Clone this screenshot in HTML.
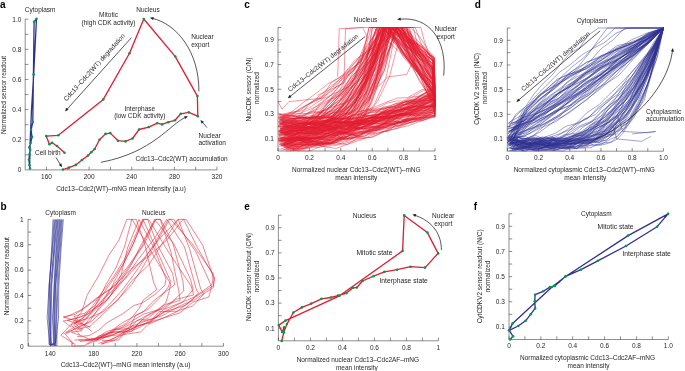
<!DOCTYPE html>
<html><head><meta charset="utf-8"><style>
html,body{margin:0;padding:0;background:#fff;}
svg{display:block;will-change:transform;}
text{font-family:"Liberation Sans", sans-serif;font-size:6.5px;fill:#231f20;}
</style></head><body>
<svg width="685" height="371" viewBox="0 0 685 371">
<rect width="685" height="371" fill="#fff"/>
<line x1="25.19" y1="169.9" x2="217" y2="169.9" stroke="#231f20" stroke-width="0.5"/>
<line x1="25.19" y1="169.9" x2="25.19" y2="19.2" stroke="#231f20" stroke-width="0.5"/>
<line x1="46.5" y1="169.9" x2="46.5" y2="166.7" stroke="#231f20" stroke-width="0.5"/>
<line x1="67.81" y1="169.9" x2="67.81" y2="166.7" stroke="#231f20" stroke-width="0.5"/>
<line x1="89.12" y1="169.9" x2="89.12" y2="166.7" stroke="#231f20" stroke-width="0.5"/>
<line x1="110.44" y1="169.9" x2="110.44" y2="166.7" stroke="#231f20" stroke-width="0.5"/>
<line x1="131.75" y1="169.9" x2="131.75" y2="166.7" stroke="#231f20" stroke-width="0.5"/>
<line x1="153.06" y1="169.9" x2="153.06" y2="166.7" stroke="#231f20" stroke-width="0.5"/>
<line x1="174.37" y1="169.9" x2="174.37" y2="166.7" stroke="#231f20" stroke-width="0.5"/>
<line x1="195.68" y1="169.9" x2="195.68" y2="166.7" stroke="#231f20" stroke-width="0.5"/>
<line x1="217" y1="169.9" x2="217" y2="166.7" stroke="#231f20" stroke-width="0.5"/>
<line x1="25.19" y1="154.83" x2="28.39" y2="154.83" stroke="#231f20" stroke-width="0.5"/>
<line x1="25.19" y1="139.76" x2="28.39" y2="139.76" stroke="#231f20" stroke-width="0.5"/>
<line x1="25.19" y1="124.69" x2="28.39" y2="124.69" stroke="#231f20" stroke-width="0.5"/>
<line x1="25.19" y1="109.62" x2="28.39" y2="109.62" stroke="#231f20" stroke-width="0.5"/>
<line x1="25.19" y1="94.55" x2="28.39" y2="94.55" stroke="#231f20" stroke-width="0.5"/>
<line x1="25.19" y1="79.48" x2="28.39" y2="79.48" stroke="#231f20" stroke-width="0.5"/>
<line x1="25.19" y1="64.41" x2="28.39" y2="64.41" stroke="#231f20" stroke-width="0.5"/>
<line x1="25.19" y1="49.34" x2="28.39" y2="49.34" stroke="#231f20" stroke-width="0.5"/>
<line x1="25.19" y1="34.27" x2="28.39" y2="34.27" stroke="#231f20" stroke-width="0.5"/>
<line x1="25.19" y1="19.2" x2="28.39" y2="19.2" stroke="#231f20" stroke-width="0.5"/>
<text x="46.5" y="179" text-anchor="middle">160</text>
<text x="89.12" y="179" text-anchor="middle">200</text>
<text x="131.75" y="179" text-anchor="middle">240</text>
<text x="174.37" y="179" text-anchor="middle">280</text>
<text x="217" y="179" text-anchor="middle">320</text>
<text x="21.4" y="172.2" text-anchor="end">0</text>
<text x="21.4" y="142.06" text-anchor="end">0.2</text>
<text x="21.4" y="111.92" text-anchor="end">0.4</text>
<text x="21.4" y="81.78" text-anchor="end">0.6</text>
<text x="21.4" y="51.64" text-anchor="end">0.8</text>
<text x="21.4" y="21.5" text-anchor="end">1.0</text>
<text x="0" y="7.8" style="font-size:10px;font-weight:bold;fill:#000;">a</text>
<text x="121" y="190.8" text-anchor="middle">Cdc13–Cdc2(WT)–mNG mean intensity (a.u)</text>
<text x="5.6" y="95" text-anchor="middle" transform="rotate(-90 5.6 95)">Normalized sensor readout</text>
<polyline points="30,168.5 29.5,165.2 28.9,159.7 29.5,154.2 30.2,149.7 29.3,147.5 30.6,143.1 32,137.1 31.1,129.8 32.8,122.1 34.1,21.9 36.5,18.7 33.7,74.3 31.5,110 30.2,140 29.8,160 29.6,169" fill="none" stroke="#2e3192" stroke-width="1.3" stroke-linejoin="round" />
<circle cx="30" cy="168.5" r="1.3" fill="#00994a"/>
<circle cx="29.5" cy="165.2" r="1.3" fill="#00994a"/>
<circle cx="28.9" cy="159.7" r="1.3" fill="#00994a"/>
<circle cx="29.5" cy="154.2" r="1.3" fill="#00994a"/>
<circle cx="30.2" cy="149.7" r="1.3" fill="#00994a"/>
<circle cx="29.3" cy="147.5" r="1.3" fill="#00994a"/>
<circle cx="30.6" cy="143.1" r="1.3" fill="#00994a"/>
<circle cx="32" cy="137.1" r="1.3" fill="#00994a"/>
<circle cx="31.1" cy="129.8" r="1.3" fill="#00994a"/>
<circle cx="32.8" cy="122.1" r="1.3" fill="#00994a"/>
<circle cx="34.1" cy="21.9" r="1.3" fill="#00994a"/>
<circle cx="36.5" cy="18.7" r="1.3" fill="#00994a"/>
<circle cx="33.7" cy="74.3" r="1.3" fill="#00994a"/>
<polyline points="62.9,169.5 69.1,167.6 75.8,164.9 82,160 88,155.5 91.2,152.2 94.7,149 99.5,139.8 105.5,133.9 110.3,133.1 118,140.7 125.5,141.4 132.5,138.5 139.1,129.5 148.8,127.1 157.3,123.2 162.1,124.4 168.2,122.2 175,120.3 180.8,113.8 188.8,112.3 197.8,116.2 197.4,96.1 175.3,56.6 143.8,19 129.5,53.3 103.3,99.4 58.3,135.3 46.2,136.1 49.4,144.2 52.1,142.8 57,146 64.5,152.8" fill="none" stroke="#e31b30" stroke-width="1.3" stroke-linejoin="round" />
<circle cx="62.9" cy="169.5" r="1.3" fill="#00994a"/>
<circle cx="69.1" cy="167.6" r="1.3" fill="#00994a"/>
<circle cx="75.8" cy="164.9" r="1.3" fill="#00994a"/>
<circle cx="82" cy="160" r="1.3" fill="#00994a"/>
<circle cx="88" cy="155.5" r="1.3" fill="#00994a"/>
<circle cx="91.2" cy="152.2" r="1.3" fill="#00994a"/>
<circle cx="94.7" cy="149" r="1.3" fill="#00994a"/>
<circle cx="99.5" cy="139.8" r="1.3" fill="#00994a"/>
<circle cx="105.5" cy="133.9" r="1.3" fill="#00994a"/>
<circle cx="110.3" cy="133.1" r="1.3" fill="#00994a"/>
<circle cx="118" cy="140.7" r="1.3" fill="#00994a"/>
<circle cx="125.5" cy="141.4" r="1.3" fill="#00994a"/>
<circle cx="132.5" cy="138.5" r="1.3" fill="#00994a"/>
<circle cx="139.1" cy="129.5" r="1.3" fill="#00994a"/>
<circle cx="148.8" cy="127.1" r="1.3" fill="#00994a"/>
<circle cx="157.3" cy="123.2" r="1.3" fill="#00994a"/>
<circle cx="162.1" cy="124.4" r="1.3" fill="#00994a"/>
<circle cx="168.2" cy="122.2" r="1.3" fill="#00994a"/>
<circle cx="175" cy="120.3" r="1.3" fill="#00994a"/>
<circle cx="180.8" cy="113.8" r="1.3" fill="#00994a"/>
<circle cx="188.8" cy="112.3" r="1.3" fill="#00994a"/>
<circle cx="197.8" cy="116.2" r="1.3" fill="#00994a"/>
<circle cx="197.4" cy="96.1" r="1.3" fill="#00994a"/>
<circle cx="175.3" cy="56.6" r="1.3" fill="#00994a"/>
<circle cx="143.8" cy="19" r="1.3" fill="#00994a"/>
<circle cx="129.5" cy="53.3" r="1.3" fill="#00994a"/>
<circle cx="103.3" cy="99.4" r="1.3" fill="#00994a"/>
<circle cx="58.3" cy="135.3" r="1.3" fill="#00994a"/>
<circle cx="46.2" cy="136.1" r="1.3" fill="#00994a"/>
<circle cx="49.4" cy="144.2" r="1.3" fill="#00994a"/>
<circle cx="52.1" cy="142.8" r="1.3" fill="#00994a"/>
<circle cx="57" cy="146" r="1.3" fill="#00994a"/>
<circle cx="64.5" cy="152.8" r="1.3" fill="#00994a"/>
<text x="24.8" y="11.6">Cytoplasm</text>
<text x="148" y="12" text-anchor="middle">Nucleus</text>
<text x="108.5" y="17.1" text-anchor="middle">Mitotic</text>
<text x="108.5" y="25.2" text-anchor="middle">(high CDK activity)</text>
<text x="191.2" y="38.7">Nuclear</text>
<text x="191.2" y="46.7">export</text>
<text x="139.8" y="110.9" text-anchor="middle">Interphase</text>
<text x="139.8" y="118.4" text-anchor="middle">(low CDK activity)</text>
<text x="198.5" y="137.6">Nuclear</text>
<text x="198.5" y="145.1">activation</text>
<text x="135.5" y="160.9">Cdc13–Cdc2(WT) accumulation</text>
<text x="35" y="155.4">Cell birth</text>
<line x1="131.4" y1="37.7" x2="66.61" y2="109.72" stroke="#231f20" stroke-width="0.75"/>
<path d="M65,111.5 L66.27,107.81 L68.53,109.85 Z" fill="#231f20"/>
<text x="95.9" y="68.8" text-anchor="middle" transform="rotate(311.98 95.9 68.8)">Cdc13–Cdc2(WT) degradation</text>
<path d="M198.9,91.4 C199.2,51.8 176.7,23.8 152.05,18.28" fill="none" stroke="#231f20" stroke-width="0.75"/>
<path d="M149.9,17.8 L153.74,17.1 L153.07,20.07 Z" fill="#231f20"/>
<path d="M100.9,162.3 C153.3,152.5 170.1,123.8 185.97,117.15" fill="none" stroke="#231f20" stroke-width="0.75"/>
<path d="M188,116.3 L185.27,119.09 L184.1,116.29 Z" fill="#231f20"/>
<line x1="207" y1="127.5" x2="201.99" y2="121.8" stroke="#231f20" stroke-width="0.75"/>
<path d="M200.4,120 L203.91,121.69 L201.63,123.7 Z" fill="#231f20"/>
<line x1="56" y1="157.5" x2="60.74" y2="165.16" stroke="#231f20" stroke-width="0.75"/>
<path d="M62,167.2 L58.82,164.94 L61.4,163.35 Z" fill="#231f20"/>
<line x1="28" y1="346.2" x2="223.5" y2="346.2" stroke="#231f20" stroke-width="0.5"/>
<line x1="28" y1="346.2" x2="28" y2="219.4" stroke="#231f20" stroke-width="0.5"/>
<line x1="28.65" y1="346.2" x2="28.65" y2="343" stroke="#231f20" stroke-width="0.5"/>
<line x1="50.3" y1="346.2" x2="50.3" y2="343" stroke="#231f20" stroke-width="0.5"/>
<line x1="71.95" y1="346.2" x2="71.95" y2="343" stroke="#231f20" stroke-width="0.5"/>
<line x1="93.6" y1="346.2" x2="93.6" y2="343" stroke="#231f20" stroke-width="0.5"/>
<line x1="115.25" y1="346.2" x2="115.25" y2="343" stroke="#231f20" stroke-width="0.5"/>
<line x1="136.9" y1="346.2" x2="136.9" y2="343" stroke="#231f20" stroke-width="0.5"/>
<line x1="158.55" y1="346.2" x2="158.55" y2="343" stroke="#231f20" stroke-width="0.5"/>
<line x1="180.2" y1="346.2" x2="180.2" y2="343" stroke="#231f20" stroke-width="0.5"/>
<line x1="201.85" y1="346.2" x2="201.85" y2="343" stroke="#231f20" stroke-width="0.5"/>
<line x1="223.5" y1="346.2" x2="223.5" y2="343" stroke="#231f20" stroke-width="0.5"/>
<line x1="28" y1="333.52" x2="31.2" y2="333.52" stroke="#231f20" stroke-width="0.5"/>
<line x1="28" y1="320.84" x2="31.2" y2="320.84" stroke="#231f20" stroke-width="0.5"/>
<line x1="28" y1="308.16" x2="31.2" y2="308.16" stroke="#231f20" stroke-width="0.5"/>
<line x1="28" y1="295.48" x2="31.2" y2="295.48" stroke="#231f20" stroke-width="0.5"/>
<line x1="28" y1="282.8" x2="31.2" y2="282.8" stroke="#231f20" stroke-width="0.5"/>
<line x1="28" y1="270.12" x2="31.2" y2="270.12" stroke="#231f20" stroke-width="0.5"/>
<line x1="28" y1="257.44" x2="31.2" y2="257.44" stroke="#231f20" stroke-width="0.5"/>
<line x1="28" y1="244.76" x2="31.2" y2="244.76" stroke="#231f20" stroke-width="0.5"/>
<line x1="28" y1="232.08" x2="31.2" y2="232.08" stroke="#231f20" stroke-width="0.5"/>
<line x1="28" y1="219.4" x2="31.2" y2="219.4" stroke="#231f20" stroke-width="0.5"/>
<text x="50.3" y="356" text-anchor="middle">140</text>
<text x="93.6" y="356" text-anchor="middle">180</text>
<text x="136.9" y="356" text-anchor="middle">220</text>
<text x="180.2" y="356" text-anchor="middle">260</text>
<text x="223.5" y="356" text-anchor="middle">300</text>
<text x="23.6" y="348.5" text-anchor="end">0</text>
<text x="23.6" y="323.14" text-anchor="end">0.2</text>
<text x="23.6" y="297.78" text-anchor="end">0.4</text>
<text x="23.6" y="272.42" text-anchor="end">0.6</text>
<text x="23.6" y="247.06" text-anchor="end">0.8</text>
<text x="23.6" y="221.7" text-anchor="end">1</text>
<text x="0.6" y="209.9" style="font-size:10px;font-weight:bold;fill:#000;">b</text>
<text x="125.5" y="367.4" text-anchor="middle">Cdc13–Cdc2(WT)–mNG mean intensity (a.u)</text>
<text x="8.6" y="276.2" text-anchor="middle" transform="rotate(-90 8.6 276.2)">Normalized sensor readout</text>
<text x="60.7" y="214.6" text-anchor="middle">Cytoplasm</text>
<text x="153.7" y="214.6" text-anchor="middle">Nucleus</text>
<polyline points="60.81,219.4 58.75,250 57.04,285 56.21,318 55.51,342.82 50.74,345.53 51.18,318 51.77,285 54.73,250 57.11,219.4" fill="none" stroke="#2e3192" stroke-width="0.6" stroke-linejoin="round" />
<polyline points="53.07,219.4 51.47,250 49.48,285 48.89,318 49.02,344.45 51.41,345.1 48.91,318 49.16,285 52.11,250 54.03,219.4" fill="none" stroke="#2e3192" stroke-width="0.6" stroke-linejoin="round" />
<polyline points="60,219.4 57.96,250 55.64,285 55.81,318 55.13,344.85 50.86,342.77 50.42,318 50.44,285 54.09,250 56.48,219.4" fill="none" stroke="#2e3192" stroke-width="0.6" stroke-linejoin="round" />
<polyline points="57.77,219.4 55.91,250 54.05,285 52.77,318 53.51,345.04 49.83,344.24 47.11,318 49.17,285 52.58,250 54.94,219.4" fill="none" stroke="#2e3192" stroke-width="0.6" stroke-linejoin="round" />
<polyline points="55.48,219.4 53.76,250 51.4,285 50,318 49.87,344.73 56.95,345.46 56.85,318 58,285 60.21,250 62.31,219.4" fill="none" stroke="#2e3192" stroke-width="0.6" stroke-linejoin="round" />
<polyline points="61.62,219.4 59.29,250 55.56,285 54.37,318 54.34,345.3 55.53,345.35 58.48,318 58.85,285 60.99,250 63.34,219.4" fill="none" stroke="#2e3192" stroke-width="0.6" stroke-linejoin="round" />
<polyline points="59.4,219.4 57.31,250 54.79,285 54.17,318 55.27,343.17 54.13,343.61 52.87,318 54.48,285 56.46,250 58.44,219.4" fill="none" stroke="#2e3192" stroke-width="0.6" stroke-linejoin="round" />
<polyline points="98.63,343.41 107.71,340.61 118.89,339.94 125.12,331.8 133.39,328.33 145.55,316.77 154.87,311.85 165.81,302.93 168.92,292.31 170.75,284.03 151.22,251.77 132.08,219.4 126.82,219.4 119.09,239.75 108.66,255.59 98.92,275.27 87.12,295.36 81.49,312.12 72.3,323.15 60.87,335.27 75.24,344.58" fill="none" stroke="#e31b30" stroke-width="0.55" stroke-linejoin="round" />
<polyline points="95.41,341.14 100.06,339.74 111.13,333.91 115.5,328.72 125.91,323.6 131.87,317.62 139.11,308.41 143.36,299.91 156.8,289.6 153.5,282 145.1,245.18 136.32,219.4 131.77,219.4 124.82,245.8 116.14,267.44 106.5,283.44 99.62,297.41 93.42,309.46 81.44,319.1 75.53,321.1 90.48,327.22" fill="none" stroke="#e31b30" stroke-width="0.55" stroke-linejoin="round" />
<polyline points="77.28,336.68 89.17,335.58 98.66,330.21 107.16,322.62 123.13,313.48 133.72,305.58 142.31,302.97 154.85,294.47 164.73,285.54 166.05,279.14 154.13,248.16 138.99,219.4 127.47,248.05 121.24,274.69 110.85,295.15 99.43,308.88 88.5,319.94 80.7,331 71.21,332.03 88.3,338.54" fill="none" stroke="#e31b30" stroke-width="0.55" stroke-linejoin="round" />
<polyline points="72.41,346 84.31,345.79 98.25,336.28 108.38,332.93 121.49,323.24 134.66,316.07 148.22,309.17 160.49,297.07 167.95,287.56 170.51,281.13 155.75,247.65 142.91,219.4 133.33,243.9 124.45,262.13 113.14,279.41 102.15,295.19 94.94,305.64 84.63,313.12 73.82,316.61 91.9,331.6" fill="none" stroke="#e31b30" stroke-width="0.55" stroke-linejoin="round" />
<polyline points="101.85,340.41 110.22,340.45 121.09,334.12 129.82,326.62 135.58,315.42 143.1,311.77 154.32,300.09 165.2,291.99 174.67,284.67 172.64,273.41 158.21,246.53 147.6,219.4 143.87,219.4 132.75,244.97 121.7,267.37 109.71,290.5 100.75,305 89.32,321.9 76.69,327.65 65.37,334.38 73.61,344.3" fill="none" stroke="#e31b30" stroke-width="0.55" stroke-linejoin="round" />
<polyline points="87.37,344.35 99.49,338.45 115.31,330.18 123.95,327.3 136.14,321.33 153.72,311.76 164.63,308.51 175.88,299.37 193.76,294.97 191.12,286.02 168.8,252.48 148.56,219.4 142.68,219.4 133.34,240.01 123.97,259.99 113.16,277.32 101.95,292.59 93.13,305.27 83.18,317.77 73.7,324.64 81.36,330.77" fill="none" stroke="#e31b30" stroke-width="0.55" stroke-linejoin="round" />
<polyline points="92.9,342.51 102.02,336.27 114.32,331.56 131.6,331.65 140.32,321.58 153.38,318.48 170.04,308.62 182.69,302.06 193.11,289.5 190.57,279.45 174.2,244.57 154.63,219.4 141.6,246.86 128.53,265.63 114.12,284.49 100.7,302.45 89.58,313.67 76.59,318.31 63.24,321.03 71.25,327.16" fill="none" stroke="#e31b30" stroke-width="0.55" stroke-linejoin="round" />
<polyline points="96.86,338.57 106.75,334.5 114.17,329.69 129.7,328.51 137.29,320.3 147.11,318.93 155.68,311.96 164.83,304.49 180.07,300.53 178.59,289.64 170.93,251.98 160.28,219.4 155.38,219.4 141.77,243.37 131.32,264.84 119.06,283.93 106.86,300.56 93.43,309.09 81.17,316.61 67.46,320.54 83.05,325.15" fill="none" stroke="#e31b30" stroke-width="0.55" stroke-linejoin="round" />
<polyline points="79.83,341.62 94.45,339.36 106.39,331.56 121.14,327.61 135.03,319.22 143.34,314.28 161.1,308.74 172.03,301.74 183.8,290.92 182.96,281.26 172.84,243.12 160.61,219.4 155.7,219.4 144.63,243.51 130.62,264.29 116.49,284.88 100.89,295.65 88.18,305.39 75.01,314.49 63.23,316.89 77.24,321.36" fill="none" stroke="#e31b30" stroke-width="0.55" stroke-linejoin="round" />
<polyline points="101.89,344.29 109.61,339.8 122.07,334.85 138.98,327.58 152.18,319.32 158.96,311.66 177.05,311.2 189.08,302.58 198.58,292.67 196.53,290.24 184.48,246.84 166.74,219.4 154.44,238.38 137.72,260.06 125.52,277.93 110.1,296.01 96.74,307.94 85.42,319 71.02,324.68 80.12,335.13" fill="none" stroke="#e31b30" stroke-width="0.55" stroke-linejoin="round" />
<polyline points="85.26,339.49 98.79,339.36 117.2,333.04 132.89,326.77 150.23,322.61 163.25,309.64 183.87,301.43 194.47,296.96 212.27,284.24 213.21,273.78 191.84,243.45 170.8,219.4 168.17,219.4 153.76,244.7 138.12,268.56 122.57,289.57 109.74,304.04 91.65,321.27 78.86,327.49 63.35,333.75" fill="none" stroke="#e31b30" stroke-width="0.55" stroke-linejoin="round" />
<polyline points="78.31,340.3 93.11,340.52 107.83,332.61 124.59,332.17 144.61,323.62 162.27,318.34 179.73,312.92 192.95,302.04 208.97,296.85 211.58,286.44 195.87,251.77 173.74,219.4 169.64,219.4 154.77,245.2 143.52,265.88 131.91,284.37 116.53,300.87 102.74,314.52 89.94,326.2 77.16,329.45" fill="none" stroke="#e31b30" stroke-width="0.55" stroke-linejoin="round" />
<polyline points="100.77,344.05 114.13,340.62 122.94,334.59 140.62,332.05 148.14,324.4 164.63,317.44 180.47,309.87 192.52,306.2 203.95,293.89 200.76,289.17 189.47,248.39 178.2,219.4 160.64,237.29 146.81,254.77 128.94,274.76 114.23,288.85 97.67,304.66 84.14,321.31 66.09,332.1" fill="none" stroke="#e31b30" stroke-width="0.55" stroke-linejoin="round" />
<polyline points="87.8,340 104.33,336.65 118.71,334.74 135.16,326.94 149.28,322.22 163.48,312.09 184.96,305.47 195.61,296.84 213.27,285.84 214.71,277.82 197.36,247.63 183.69,219.4 178.02,219.4 161.29,245.05 148.71,264.94 131.5,281.08 117.31,300.52 102.69,312.02 89.41,317.8 74.16,322.53 82.18,329.54" fill="none" stroke="#e31b30" stroke-width="0.55" stroke-linejoin="round" />
<polyline points="74.36,340.14 95.65,338.35 108.17,336.91 130.18,326.62 143.83,321.72 161.97,315.72 182.35,304.81 194.76,299.63 213.58,287.32 213.96,279.11 202.69,245.19 186.08,219.4 183.06,219.4 167.62,239.25 149.57,255.49 130.92,269.4 113.37,286.64 95.68,298.67 82.3,309.39 63.75,318.05" fill="none" stroke="#e31b30" stroke-width="0.55" stroke-linejoin="round" />
<line x1="278" y1="151" x2="435" y2="151" stroke="#231f20" stroke-width="0.5"/>
<line x1="278" y1="151" x2="278" y2="27.5" stroke="#231f20" stroke-width="0.5"/>
<line x1="278" y1="151" x2="278" y2="147.8" stroke="#231f20" stroke-width="0.5"/>
<line x1="293.7" y1="151" x2="293.7" y2="147.8" stroke="#231f20" stroke-width="0.5"/>
<line x1="309.4" y1="151" x2="309.4" y2="147.8" stroke="#231f20" stroke-width="0.5"/>
<line x1="325.1" y1="151" x2="325.1" y2="147.8" stroke="#231f20" stroke-width="0.5"/>
<line x1="340.8" y1="151" x2="340.8" y2="147.8" stroke="#231f20" stroke-width="0.5"/>
<line x1="356.5" y1="151" x2="356.5" y2="147.8" stroke="#231f20" stroke-width="0.5"/>
<line x1="372.2" y1="151" x2="372.2" y2="147.8" stroke="#231f20" stroke-width="0.5"/>
<line x1="387.9" y1="151" x2="387.9" y2="147.8" stroke="#231f20" stroke-width="0.5"/>
<line x1="403.6" y1="151" x2="403.6" y2="147.8" stroke="#231f20" stroke-width="0.5"/>
<line x1="419.3" y1="151" x2="419.3" y2="147.8" stroke="#231f20" stroke-width="0.5"/>
<line x1="435" y1="151" x2="435" y2="147.8" stroke="#231f20" stroke-width="0.5"/>
<line x1="278" y1="138.65" x2="281.2" y2="138.65" stroke="#231f20" stroke-width="0.5"/>
<line x1="278" y1="126.3" x2="281.2" y2="126.3" stroke="#231f20" stroke-width="0.5"/>
<line x1="278" y1="113.95" x2="281.2" y2="113.95" stroke="#231f20" stroke-width="0.5"/>
<line x1="278" y1="101.6" x2="281.2" y2="101.6" stroke="#231f20" stroke-width="0.5"/>
<line x1="278" y1="89.25" x2="281.2" y2="89.25" stroke="#231f20" stroke-width="0.5"/>
<line x1="278" y1="76.9" x2="281.2" y2="76.9" stroke="#231f20" stroke-width="0.5"/>
<line x1="278" y1="64.55" x2="281.2" y2="64.55" stroke="#231f20" stroke-width="0.5"/>
<line x1="278" y1="52.2" x2="281.2" y2="52.2" stroke="#231f20" stroke-width="0.5"/>
<line x1="278" y1="39.85" x2="281.2" y2="39.85" stroke="#231f20" stroke-width="0.5"/>
<line x1="278" y1="27.5" x2="281.2" y2="27.5" stroke="#231f20" stroke-width="0.5"/>
<text x="278" y="160.3" text-anchor="middle">0</text>
<text x="309.4" y="160.3" text-anchor="middle">0.2</text>
<text x="340.8" y="160.3" text-anchor="middle">0.4</text>
<text x="372.2" y="160.3" text-anchor="middle">0.6</text>
<text x="403.6" y="160.3" text-anchor="middle">0.8</text>
<text x="435" y="160.3" text-anchor="middle">1</text>
<text x="273.8" y="140.95" text-anchor="end">0.1</text>
<text x="273.8" y="116.25" text-anchor="end">0.3</text>
<text x="273.8" y="91.55" text-anchor="end">0.5</text>
<text x="273.8" y="66.85" text-anchor="end">0.7</text>
<text x="273.8" y="42.15" text-anchor="end">0.9</text>
<text x="244.2" y="8.2" style="font-size:10px;font-weight:bold;fill:#000;">c</text>
<text x="356.3" y="172.1" text-anchor="middle">Normalized nuclear Cdc13–Cdc2(WT)–mNG</text>
<text x="356.3" y="180.3" text-anchor="middle">mean intensity</text>
<text x="251.2" y="89.6" text-anchor="middle" transform="rotate(-90 251.2 89.6)">NucCDK sensor (C/N)</text>
<text x="258.6" y="88" text-anchor="middle" transform="rotate(-90 258.6 88)">normalized</text>
<polyline points="286.91,132.07 297.75,130.66 310.5,127.2 320.97,127.89 334.44,120.73 348.74,123.14 361.32,119.99 373.11,116.32 383.26,106.97 396.51,106.88 411.88,97.29 421.74,91.22 435,88.56 434.52,76.01 432.83,69.99 424.71,58.24 413.02,45.18 395.06,27.5 378.22,27.5 367.37,78.56 357.81,106.94 347.11,119.21 337.99,125.9 329.25,130.52 318.03,130.83 309.05,131.13 299.78,133.07 289.25,133.23 278.67,131.11" fill="none" stroke="#e31b30" stroke-width="0.45" stroke-linejoin="round" />
<polyline points="280.43,130.14 292.7,124.35 306.43,127.45 317.24,125.13 331.85,126.86 344.77,120.88 358.21,124.87 371.56,123.18 382.3,118.23 397.5,118.71 410.55,115.86 421.27,115.98 435,113.22 434.65,89.02 431.87,67.63 415.4,53.18 398.61,43.38 381.05,27.5 380.14,27.5 369.57,41.85 361.14,54.65 350.22,68.58 341.56,83.32 330.59,95.98 319.77,104.49 311.92,116.49 301.61,127.75 290.82,139.87 281.08,145.77" fill="none" stroke="#e31b30" stroke-width="0.45" stroke-linejoin="round" />
<polyline points="285.09,144.44 297.29,145.06 309.68,138.25 324.36,139.19 335.11,139.1 346.05,136.95 361.15,129.73 372.05,126.7 386.09,123.26 398.16,118.27 409.51,113.64 421.69,109.68 435,103.66 434.31,77.12 432.96,57.17 423,48.04 411.63,40.6 397.54,27.5 397.32,27.5 385.81,57.87 374.86,81.13 362.69,98.98 352.25,112.32 339.85,120.02 329.74,125.26 318.59,128.87 306.02,129.01 293.72,131.32 283.14,131.5" fill="none" stroke="#e31b30" stroke-width="0.45" stroke-linejoin="round" />
<polyline points="292.04,127.12 303.37,127.09 316.65,126.09 328.38,128.84 338.21,123.96 351.99,122.95 364.07,117.03 373.58,114.54 386.21,113.31 397.8,106.87 409.92,102.6 421.31,95.09 435,88.71 433.61,87.78 432.16,82.96 417.03,67.42 402.73,50.13 389.91,27.5 382.28,27.5 373.15,44.93 361.19,58.3 351.38,70.5 342.03,82.79 333.63,93.27 322.31,101.42 312.91,109.15 301.69,117.17 292.79,120.35 282.67,122.61" fill="none" stroke="#e31b30" stroke-width="0.45" stroke-linejoin="round" />
<polyline points="294.37,131.76 305.18,133.42 316.37,132.5 330.94,129.83 342.66,123.95 353.04,126.19 366.25,122.19 375.88,120.99 389.79,117.31 398.92,114.87 410.06,111.28 423.03,110.92 435,106.81 434.97,84.37 434.14,62.4 424.84,53.19 413.44,42.61 396.14,27.5 381.41,27.5 372.44,64.39 361.3,88.78 351.2,104.91 341.26,115.19 331.11,123.82 320.35,126.48 309.56,127.92 299.79,127.63 290.31,128.5 279.5,127.89" fill="none" stroke="#e31b30" stroke-width="0.45" stroke-linejoin="round" />
<polyline points="279.07,135.45 291.38,132.04 304.68,132.1 318.81,131.25 329.94,126.49 342.28,128.8 357.75,128.85 370.86,122.96 382.42,124.23 396.81,118.36 407.49,119.8 422.1,118.11 435,116.53 433.62,102.99 434.79,94.07 417.51,72.66 402.47,53.32 386.63,27.5 371.19,27.5 362.62,58.73 354.19,76.06 342.68,92.66 333.98,102.48 326.7,110.01 315.51,113.59 308.36,117.43 298.46,118.88 288.2,117.91 279.93,117.55" fill="none" stroke="#e31b30" stroke-width="0.45" stroke-linejoin="round" />
<polyline points="279.09,149.34 292.7,145.78 306.94,143.67 316.59,138.28 329.92,135.39 344.22,129.98 357.38,128.39 369.25,125.18 382.19,120.03 396.15,120.44 408.06,114.87 422.92,112.21 435,105.95 434.8,103.22 434.71,102.98 419.66,81.63 407.34,55.83 396.05,27.5 384.86,27.5 374.12,70.67 363.08,94.7 352.84,109.07 344.79,118.77 332.66,119.67 324.24,123.45 313.55,121.4 302.76,123.82 291.48,122.87 281.84,122.22" fill="none" stroke="#e31b30" stroke-width="0.45" stroke-linejoin="round" />
<polyline points="280.66,139.51 293.81,140.98 306.87,139.01 319.04,141.9 330.51,139.01 343.38,131.52 357.88,129.07 368.91,127.16 385.1,121.63 396.21,117.62 407.81,114.12 420.87,106.37 435,98.71 434.64,95.83 434.13,89.32 417.74,72.08 403.29,52.31 388.86,27.5 383.45,27.5 374.08,63.16 363.68,84.9 352.59,98.84 342.84,109.37 331.71,116.46 321.29,118.54 309.57,117.85 298.79,120.61 288.49,120.57 279.12,119.37" fill="none" stroke="#e31b30" stroke-width="0.45" stroke-linejoin="round" />
<polyline points="292.41,138.06 304.25,140.24 317.43,141.23 325.92,133.63 339.17,136.22 351.63,127.01 363.45,128.6 373.79,127.55 388.76,121.55 400.83,121.36 410.16,118.06 422.68,114.58 435,108.03 434.28,99.05 434.88,83.42 426.47,66.6 416.51,50.35 400.8,27.5 397.42,27.5 384.54,42.82 372.76,58.12 362.97,70.28 350.97,81.99 337.03,94.37 326.37,102.26 314.25,109.98 303.29,116.01 290.41,119.15 279.05,123.01" fill="none" stroke="#e31b30" stroke-width="0.45" stroke-linejoin="round" />
<polyline points="287.27,141.36 298.65,140.23 310.91,137.96 325.02,137.58 335.33,132.13 347.53,132.66 360.68,127.87 372.23,123.33 385.29,116.18 398.46,109.69 411.08,104.5 423.03,99.94 435,92.14 432.75,89.21 432.8,89.67 423.61,71.6 414.49,54.19 406.19,27.5 390.89,27.5 378.95,77.43 369.12,107.08 356.47,125.32 346.6,133.45 334.22,141.94 323.88,143.79 314.26,141.39 301.35,142.72 290.57,143.56 279.8,143.25" fill="none" stroke="#e31b30" stroke-width="0.45" stroke-linejoin="round" />
<polyline points="280.13,133.08 290.09,135.44 306.13,132.65 317.36,130.41 331.66,124.15 343.82,120.66 357.1,123.03 370.97,116.88 381.14,108.74 394.11,106.94 408.85,99.98 421.55,99.47 435,92.12 433.68,82.44 432.64,70.63 419.77,58.94 406.94,42.37 393.94,27.5 387.31,27.5 377.58,70.09 365.84,100.36 356.31,120.95 343.7,130.32 333.24,137.66 324.64,138.06 313.77,141.5 302.87,141.29 292.11,138.95 281.19,140.56" fill="none" stroke="#e31b30" stroke-width="0.45" stroke-linejoin="round" />
<polyline points="280.57,130.55 294.63,128.67 308.56,128 322.33,123.65 334.83,122.83 346.6,122.07 359.8,121.29 371.75,116.98 384.2,117.48 395.25,116.5 409.02,110.64 423.26,107.18 435,106.03 434.35,103.2 434.77,103.56 421.71,78.49 408.15,55.96 389.59,27.5 376.96,27.5 367.95,55.63 357.51,79.06 347.41,100.26 336.85,111.72 327.75,122.09 316.52,132.12 307.1,136.85 299.04,138.25 288.46,138.13 278.31,140.13" fill="none" stroke="#e31b30" stroke-width="0.45" stroke-linejoin="round" />
<polyline points="280.74,129.54 291.92,130.18 307.07,131.22 317.31,126.75 333.1,122.24 345.61,122.88 357.36,119.39 372.06,118.09 382.6,112.99 398.08,112.76 407.44,110.02 422.34,103.3 435,100.57 433.6,84.8 432.83,71.21 421.59,58.17 408.04,43.33 389.7,27.5 388.55,27.5 377.5,50.21 367.72,71.92 356.08,89.45 347.03,105.16 334.57,117.81 324.12,127.92 313.51,134.64 302.8,136.27 293.79,137.61 282.61,139.23" fill="none" stroke="#e31b30" stroke-width="0.45" stroke-linejoin="round" />
<polyline points="285.83,131.83 298.53,127.48 311.78,122.77 325.16,124.12 336.19,118.05 348.39,118.02 361.53,113.18 374.16,109.22 387.52,102.93 396.47,100.98 411.22,100.92 421.25,96.34 435,92.84 432.84,82.95 434.09,71.31 427.78,56.74 421.62,44.65 415.2,27.5 402.07,27.5 389.61,76.29 378.03,100.4 365.73,117.65 354.31,123.25 341.27,126.65 329.74,127.48 317.86,123.78 306.8,126.49 293.3,127.8 281.62,125.99" fill="none" stroke="#e31b30" stroke-width="0.45" stroke-linejoin="round" />
<polyline points="278,126.91 291.08,128.7 302.8,128.2 319.14,123.48 330.52,125.92 343.15,118.93 356.37,118.21 371.2,115.84 383.26,118.01 394.02,110.89 408.55,108.09 423.16,105.73 435,106.51 433.22,102.37 434.53,104.04 423.1,78.74 410.78,55.67 393.62,27.5 385.67,27.5 374.7,61.85 364.06,86.56 353.79,104.66 341.78,118.03 330.77,124.82 322.08,130.15 309.55,130.56 300.37,135.55 289.03,131.69 278.02,133.77" fill="none" stroke="#e31b30" stroke-width="0.45" stroke-linejoin="round" />
<polyline points="285.91,148.17 298.49,148.31 310.03,140.54 323.23,144.2 333.5,137.64 347,136.57 359.89,131.93 374.24,130.95 385.24,127.3 397.66,120.42 408.61,118.38 423.27,117.76 435,110.35 433.81,84.9 432.51,61.08 419.63,53.29 407.63,41.5 397.4,27.5 387.97,27.5 375.8,59.07 365.91,83.9 356.14,101.38 344.18,116.89 334.23,125.51 323.4,131.19 310.37,138.12 299.17,137.36 289.86,140.25 278.3,140.13" fill="none" stroke="#e31b30" stroke-width="0.45" stroke-linejoin="round" />
<polyline points="283.03,126.2 295.04,128.46 308.68,127.48 323.61,125.81 333.57,121.16 347.9,123.51 360.81,119.56 371.72,117.93 383.75,118.68 398.7,115.53 411.35,115.26 421.06,113.89 435,108.42 434.98,97.24 432.41,79.28 423.64,66.02 413.36,47.77 401.49,27.5 385.07,27.5 375,61.59 364.1,84.18 354.32,104.25 341.48,117.74 330.92,123.89 321.22,132.01 311.68,132.36 298.99,133.37 290.31,134.11 278.82,134.79" fill="none" stroke="#e31b30" stroke-width="0.45" stroke-linejoin="round" />
<polyline points="280.87,150.11 292.77,149.06 308.35,148.48 317.95,145.77 330.75,142.83 345.63,138.06 356.78,137.62 370.8,129.06 383.47,124.28 398.05,120.86 408.46,111.26 422.3,100.44 435,94.36 434.01,91.02 432.38,91.89 418.39,73.76 403.91,53.96 388.24,27.5 386.21,27.5 374.82,55.06 364.96,78.33 352.84,92.98 342.58,105.03 332.52,115.35 321.59,116.49 311.76,122.38 300.12,121.91 288.37,120.69 278.16,121.71" fill="none" stroke="#e31b30" stroke-width="0.45" stroke-linejoin="round" />
<polyline points="284.38,146.38 296.89,146.76 306.6,145.27 319.75,145.6 333.72,141.24 344.69,137.03 360.49,131.22 371.42,134.15 385.25,131.07 397.07,128.21 411.45,121.88 422.07,120.53 435,115.67 433.99,95.55 433.38,71.13 424.97,57.38 413.81,42.88 396.96,27.5 389.77,27.5 379.91,53.88 367.58,75 358.95,95.7 347.06,109.19 336.75,119.4 325.38,130.57 314.67,136.11 305.29,141.54 293.09,143.06 283.36,144.05" fill="none" stroke="#e31b30" stroke-width="0.45" stroke-linejoin="round" />
<polyline points="284.56,144.66 298.62,144.68 310.55,141.45 322.62,136.59 334.3,133.99 348.19,129.41 360.87,123.75 372.74,117.4 384.88,111.45 399.02,111.16 409.33,102.6 421.1,101.28 435,96.2 434.7,82.21 432.62,70.53 425.77,55.43 416.38,45.64 403.62,27.5 403.6,27.5 392.1,44.62 380.64,63.85 367.48,78.57 355.99,92.68 344.36,105.55 331.31,116.29 319,126.96 309.03,133.02 295.29,137.97 284.54,141.78" fill="none" stroke="#e31b30" stroke-width="0.45" stroke-linejoin="round" />
<polyline points="285.54,149.63 296.64,150.18 310.58,144.54 323.41,142.94 334.75,141.8 348.38,138.52 360.36,132.77 372.29,129.93 383.35,129.31 398.78,126.32 408.33,123.26 423.5,118.47 435,111.4 433.11,85.08 433.36,58.41 420.07,47.81 408.68,39.25 399.54,27.5 384.56,27.5 374.33,59.73 364.41,83.54 351.8,99.33 343.72,107.69 330.89,116.21 320.45,118.42 309.91,119.52 299.18,120.6 289.41,119.75 279.39,119.44" fill="none" stroke="#e31b30" stroke-width="0.45" stroke-linejoin="round" />
<polyline points="281.52,131.83 292.69,130.86 308.26,128.07 321.38,126.66 333.79,123.63 347.15,122.2 358.03,120.96 371.72,117.07 384.71,117.59 395.51,115.72 408.51,110.45 423.24,110.87 435,105.65 434.14,105 433.1,98.34 423.37,78.13 413.51,58.27 403.39,27.5 400.68,27.5 388.41,46.8 375.28,62.99 365.6,75.25 351.94,86.45 339.24,96.73 326.98,109.02 316.4,116.44 304.02,118.47 291.88,121.45 279.92,123.93" fill="none" stroke="#e31b30" stroke-width="0.45" stroke-linejoin="round" />
<polyline points="283.88,136.16 296.9,135.09 310.77,138.52 323.74,135.51 334.66,131.22 348.84,133.48 360.92,132.92 372.78,131.03 385.7,122.77 398.14,125.99 410.13,119.88 422.33,118.6 435,112.39 434.83,97.64 434.24,85.47 416.89,69.05 400.93,48.56 383.32,27.5 381.6,27.5 370.77,52.53 363.09,73.11 351.76,91.9 342.79,105.98 331.51,116.58 322.27,123.8 312.77,131.05 301.96,134.37 292.71,139.36 283.44,138.69" fill="none" stroke="#e31b30" stroke-width="0.45" stroke-linejoin="round" />
<polyline points="282.87,143.02 294.65,143.21 306.34,140.98 321.89,139.08 332.68,133.63 346.25,132.7 358.44,124.5 369.64,124.07 385.06,113.43 395.19,113.63 410.02,106.4 422.86,101.97 435,92.28 434.22,85.56 433.4,81.72 424.69,64.86 413.58,47.47 397.39,27.5 381.53,27.5 371.42,59.41 361.75,80.99 352.36,97.48 342.06,106.69 332.4,110.59 322.15,116.7 310.28,115.8 301.73,117.61 290.55,119.08 281.06,118.9" fill="none" stroke="#e31b30" stroke-width="0.45" stroke-linejoin="round" />
<polyline points="279.24,123.48 294.43,126.73 306.66,123.28 319.51,119.73 333.38,122.35 344.56,118.6 356.73,114.63 369.12,115.78 382.81,113.65 394.79,113.7 411.18,107.69 421.12,107.8 435,105.24 434.55,96 434.02,93.92 419.83,75.92 407.03,51.62 394.01,27.5 392.78,27.5 382.6,54.61 371.03,76.3 358.25,95.7 346.76,107.95 337.17,116.93 324.16,121.06 315.04,125.09 303.5,124.21 292.73,125.27 280.46,126.36" fill="none" stroke="#e31b30" stroke-width="0.45" stroke-linejoin="round" />
<polyline points="281.01,137.61 294.8,130.95 307.95,129.66 321.62,129.07 332.73,128.06 345.41,123.9 360.13,120.26 370.73,122.07 382.35,116.39 395.87,117.67 408.85,113.35 421.19,107.53 435,105.82 433.28,94.2 432.11,78.22 419.94,61.99 407.92,46.64 397.09,27.5 385.94,27.5 376.16,59.12 365,83.2 353.02,104.42 343.21,116.4 333,127.54 321.62,132.54 311.82,135.28 300.41,137.96 289.94,137.17 278.84,137.71" fill="none" stroke="#e31b30" stroke-width="0.45" stroke-linejoin="round" />
<polyline points="281.55,141.53 292.85,137.24 304.01,134.58 317.43,130.66 333.17,129.73 343.99,122.23 357.94,123.57 369.37,118.37 384.8,113.8 395.32,110.03 409.1,108.76 422.71,101.21 435,99.1 433.19,83.51 433.08,74.69 420.68,59.73 409.78,47.21 401.13,27.5 391.61,27.5 380.15,44.25 369.63,60.58 359.28,74.81 347.61,87.5 335.27,98.72 325.11,108.62 314.32,118.81 302.52,123.93 291.97,126.45 280.28,128.07" fill="none" stroke="#e31b30" stroke-width="0.45" stroke-linejoin="round" />
<polyline points="284.81,133.08 296.79,128.89 308.55,127.24 322.42,130.59 333.67,125.9 347.13,121.72 360.18,120.48 370.06,120.79 385.92,114.4 397.99,115.53 410.7,110.74 422.97,106.28 435,103.2 432.71,81.71 433.45,60.13 420.74,52.57 406.7,38.28 388.36,27.5 377.78,27.5 367.94,48.19 357.33,66.29 347.71,76.4 339.22,90.58 329.02,99.73 319.76,104.91 308.5,109.9 298.75,113.67 288.3,116.15 279.42,114.22" fill="none" stroke="#e31b30" stroke-width="0.45" stroke-linejoin="round" />
<polyline points="281.33,131.72 292.71,125.71 305.38,125.16 320.68,121.28 333.9,119.52 346.99,117.98 359.61,111.81 369.06,109.32 385.59,102.47 397.45,98.05 407.51,97.71 422.06,89.67 435,88.57 432.67,86.94 434.04,86.1 420.37,68.42 408.98,51.17 399.31,27.5 391.27,27.5 381.07,57.39 368.13,79.1 356.65,94.55 344.97,108.18 335.89,117.19 323.37,120.64 312.42,123.29 300.32,125.3 288.15,127.38 278,125.86" fill="none" stroke="#e31b30" stroke-width="0.45" stroke-linejoin="round" />
<polyline points="282.14,145.28 295.82,149.88 306.96,142.56 321.47,144.47 334.62,143.44 347.93,134.13 359.74,136.7 371.48,127.33 384.76,127.4 396.06,123.8 409.79,118.07 422.15,107.91 435,105.14 433.15,106.62 432.02,102.67 423.3,78.21 410.74,58.57 392.5,27.5 383.41,27.5 372.67,50.34 363.68,71.93 353.12,89.75 341.7,108.16 333,117.09 320.53,125.64 311.01,133.2 300.42,137.76 290.5,138.06 280.53,138.56" fill="none" stroke="#e31b30" stroke-width="0.45" stroke-linejoin="round" />
<polyline points="279.59,123.51 292.15,124.22 305.58,122.92 316.62,122.51 329.34,121.77 345.52,113.32 356.28,114.81 369.04,109.94 382.87,111.77 397.37,104.05 407.24,104.76 420.92,100.92 435,99.23 434.29,83.52 433.42,69.4 425.07,56.96 416.25,42.05 406.39,27.5 393.57,27.5 382.82,39.97 370.91,49.47 359.84,62.14 346.86,72.16 335.28,83.39 325.13,94.35 312.56,101.34 300.49,110.05 289.85,113.24 278.72,117.79" fill="none" stroke="#e31b30" stroke-width="0.45" stroke-linejoin="round" />
<polyline points="279.19,140.62 293.14,137.77 305.5,139.63 318.99,136.59 331.21,130.95 343.12,131.19 356.18,122.78 370.45,122.38 383.12,116.78 395.02,116.08 407.47,107.49 422.34,99.3 435,96.79 432.68,79.27 433.68,61.71 420.59,50.16 407.39,40.81 391.83,27.5 384.82,27.5 375.49,43.94 364.5,55.7 353.63,67.92 341.97,78.82 333.04,90.49 321.06,97.82 312.14,102.59 300.77,108.1 291.23,114.46 280.11,114.3" fill="none" stroke="#e31b30" stroke-width="0.45" stroke-linejoin="round" />
<polyline points="280.87,132.52 293.22,132.48 304.82,129.41 319.16,125.34 332.06,126.44 345.15,123.7 357.15,124.24 371.1,121.36 381.59,120.72 395.72,114.94 409.76,114.02 423.28,112.82 435,109.22 433.4,108.37 432.21,106.43 422.23,80.98 412.98,57.2 406.69,27.5 396.58,27.5 385.96,78 374.89,103.37 362.82,117.93 352.25,122.83 339.35,126.74 328.7,128.56 317.73,129.03 304.68,128.74 294.07,125.17 282.68,127.17" fill="none" stroke="#e31b30" stroke-width="0.45" stroke-linejoin="round" />
<polyline points="284.65,132.11 297.42,127.55 309.49,131.84 322.14,125.98 334.65,130.47 345.78,125.72 357.78,128.3 371.6,124.42 384.63,123.24 397.47,116.28 409.14,113.78 422.52,108.84 435,106.98 433.67,98.38 434.7,94.56 417.48,72.79 403.02,56.75 388.99,27.5 372.68,27.5 364.15,77.96 355.57,108.37 345.28,126.88 337.97,133.28 328.06,138.18 320.92,140.01 310.28,139.97 303.4,137.73 292.63,141.33 284.58,139.9" fill="none" stroke="#e31b30" stroke-width="0.45" stroke-linejoin="round" />
<polyline points="280.27,140.59 293.37,138.8 304.23,138.08 317.15,129.69 330.34,127.91 345.67,125.71 355.7,124.03 368.66,121.46 382.31,117.92 396.62,111.06 408.18,108.26 420.63,104.34 435,96.54 433.77,96.6 432.58,93.04 420.41,71.18 408.08,51.6 395.53,27.5 379.4,27.5 370.51,64.75 360.44,90.35 349.61,109.41 340.19,123.26 330.54,131.01 319.44,134.3 309.07,139.75 299.36,139.04 288.48,138.56 279.76,138.95" fill="none" stroke="#e31b30" stroke-width="0.45" stroke-linejoin="round" />
<polyline points="280.22,138.33 294.91,137.56 306.51,138.16 319.65,135.14 333.59,129.17 346.67,126.42 355.97,128.76 369.97,119.17 383.68,118.1 394.84,112.51 407.82,106.97 423.04,99.74 435,90.1 434.69,72.31 432.96,59.46 424.42,48.73 412.9,41.43 395.96,27.5 382.28,27.5 372,77.27 363.35,104.16 353.08,117.38 341.3,122.62 332.55,126.93 321.7,125.17 312.08,127.78 302.2,126.88 292.69,124.81 282.43,126.7" fill="none" stroke="#e31b30" stroke-width="0.45" stroke-linejoin="round" />
<polyline points="278.58,136.79 292.22,139.1 305.17,136.09 316.87,135.33 332.28,132.51 343.37,133.56 357.5,129.38 369.25,127.69 382.65,124.11 397.43,123.13 409.15,118.86 422.63,117.87 435,112.7 434.66,98.6 434.18,87.18 423.54,70.56 413.17,52.97 401.22,27.5 392.72,27.5 380.51,67.4 371.22,95.43 358.8,107.68 349.73,112.51 337.99,117.98 327.67,118.26 316.36,117.71 303.39,117.48 293.78,118.47 282.21,118.21" fill="none" stroke="#e31b30" stroke-width="0.45" stroke-linejoin="round" />
<polyline points="282.71,145.36 294.19,145.79 308.81,146.21 318.38,147.76 334.47,142.51 347.18,144.58 356.83,138.57 370.83,137.28 382.87,131.88 397.72,128.27 409.18,125.49 421.83,120.7 435,114.94 432.73,84.03 434.58,57.59 427.57,49.33 420.3,37.61 410.87,27.5 395.42,27.5 382.81,70.61 372.06,102.1 360.95,121.91 349.62,131.54 337.13,137.63 325.96,141.04 315.46,145 302.48,143.61 291.61,142.27 280.1,144.02" fill="none" stroke="#e31b30" stroke-width="0.45" stroke-linejoin="round" />
<polyline points="287.09,141.32 298.28,139.38 310.7,136.29 323.12,133.25 335.17,134.7 347.67,131.7 362.11,122.15 372.77,123.65 386.9,115.52 396.89,115.23 410.22,112.22 421.53,106.05 435,100.87 433.58,91.68 432.13,79.55 420.67,65.05 404.96,47.04 381.68,27.5 369.06,27.5 360.97,61.95 351.5,84.15 342.51,97.07 332.58,105.65 323.63,113.03 313.77,111.73 305.44,115.67 297.83,115.25 286.88,116.5 278.86,115.04" fill="none" stroke="#e31b30" stroke-width="0.45" stroke-linejoin="round" />
<polyline points="283.84,147.39 298.9,151 309.36,145.55 322.96,143.3 336.33,144.53 349.05,140.81 358.92,133.36 373.93,132.45 384.76,125.19 396.87,122.65 411.95,120.03 424.22,109.75 435,107.16 434.53,89.37 434.46,70.65 422.13,56.02 408.09,44.8 387.35,27.5 376.59,27.5 368.01,52.51 356.45,74.95 347.64,88.57 338.93,102.19 328.23,112.3 318.31,119.61 308.07,126.73 298.84,126.31 289.41,131.46 279.32,129.59" fill="none" stroke="#e31b30" stroke-width="0.45" stroke-linejoin="round" />
<polyline points="287.65,136.11 298.01,137.42 310.62,138.61 325.55,137.17 337.39,131.27 348.19,134.68 359.68,127.74 374.04,126.66 385.97,124.44 398.54,116.18 411.37,113.28 422.93,112.31 435,103.58 434.83,92.64 431.99,75.38 423.35,60.08 411.79,44.83 396.53,27.5 385.93,27.5 375.23,67.91 366.07,93.05 353.5,103.76 344.21,111.03 333.82,116.15 323.43,117.62 312.5,116.71 302.78,119.01 291.9,115.02 280.73,117.05" fill="none" stroke="#e31b30" stroke-width="0.45" stroke-linejoin="round" />
<polyline points="282.56,144.85 294.26,140.98 306.76,139.51 322.64,135.51 335.02,129.11 344.79,125.08 358.93,123.62 371.75,119.87 383.51,110.86 398.25,110.36 409.28,100.81 421.62,102.28 435,95.35 434.19,92.89 432.06,92.88 419.15,73.36 403.71,54.51 383.82,27.5 380.1,27.5 370.26,49.79 360.32,66.81 350.5,85.24 338.82,98.84 328.89,109.07 319.06,119.56 308.04,124.46 300.24,128.97 288.63,130.36 278.83,130.93" fill="none" stroke="#e31b30" stroke-width="0.45" stroke-linejoin="round" />
<polyline points="287.89,139.44 299.61,136.44 310.15,137.38 324.13,131 337.75,128.18 350.03,124.81 360.04,127.7 372.12,120.33 384.62,120.49 396.73,113.1 409.3,114.31 423.05,107.48 435,105.15 433.75,91.1 433.38,77.86 426.55,60.97 417.58,48.48 404.76,27.5 389.26,27.5 378.14,70.31 367.5,97.52 356.73,112.68 345.64,121.3 333.59,127.46 323.31,129.98 312.84,133.32 300.94,132.51 290.64,133.79 278.76,132.45" fill="none" stroke="#e31b30" stroke-width="0.45" stroke-linejoin="round" />
<polyline points="288.98,141.35 297.93,138 310.41,137.26 323.7,137.05 337.63,132.52 350.49,132.43 360.75,126.16 374.53,123.53 384.61,119.31 398.35,110.2 410.97,105.39 423.96,102.03 435,94.74 433.3,80.58 434.41,64.94 419.46,54.87 403.76,43.71 382.53,27.5 377.02,27.5 367.54,46.64 357.54,63.33 348.43,81 337.84,96.04 327.34,103.64 316.94,116.6 308.64,124.29 299.01,127.62 287.16,128.72 278.5,131.18" fill="none" stroke="#e31b30" stroke-width="0.45" stroke-linejoin="round" />
<polyline points="278.33,141.04 291.85,141.93 304.86,137.52 320.17,137.69 329.94,136.9 345.18,133.31 356.53,132.18 368.64,129.78 384.46,127.49 396.05,126.57 409.92,122.38 421.63,117.41 435,116.77 433.49,103.59 434.83,93.94 424.71,73.97 416.27,54.54 408.21,27.5 391.51,27.5 379.82,79.21 370.22,104.56 359.19,118.12 345.76,125.66 335.34,128.55 323.46,130.7 314.34,127.14 301.13,130.64 290.17,126.87 279.84,129.01" fill="none" stroke="#e31b30" stroke-width="0.45" stroke-linejoin="round" />
<polyline points="282.44,140.81 297.95,139.59 309.15,143.42 322.44,142.23 335.25,138.59 348.29,136.31 360.32,132.17 371.03,129.23 384.35,128.33 397.38,122.25 410.56,119.87 422.83,116.92 435,110.68 433.15,105.75 434.09,96.24 420.4,75.42 409.11,56.34 399.68,27.5 394.05,27.5 383.5,41.01 370.26,51.62 360.29,62.29 348.91,71.37 335.95,82.4 323.72,92.18 314.14,100.3 302.58,107.38 290.98,115.59 278.68,121.15" fill="none" stroke="#e31b30" stroke-width="0.45" stroke-linejoin="round" />
<polyline points="280.55,145.72 294.41,147.46 305.06,144.52 317.69,141.65 331.63,142.32 343.21,139 357.83,129.39 371.57,124.64 383.61,118.94 395.63,115.09 410.7,108.19 422.55,97.58 435,88.75 433.12,82.11 433.69,81.23 424.51,63.1 412.97,48.1 395.82,27.5 395.1,27.5 383.67,44.07 373.31,61.3 360.39,77.41 350.82,87.78 338.69,101.05 326.79,108.92 315.41,114.69 304.43,120.32 294.51,126.49 282.04,126.14" fill="none" stroke="#e31b30" stroke-width="0.45" stroke-linejoin="round" />
<polyline points="295,148.97 304.09,149.13 316.23,140.72 329.23,143.4 339.42,138.27 352.16,138.84 364.36,132.39 375.73,130.5 386.89,127.45 398.07,121.76 413.14,120.87 423.17,118.71 435,114.51 433.33,110.22 433.74,105.09 421.28,82.59 407.43,59.82 388.77,27.5 385.36,27.5 375.59,83.05 364.6,113.2 354.39,130.48 343.26,136.34 332.23,141.25 320.77,139.29 310.33,142.82 300.6,139.88 288.82,143.02 278.59,141.08" fill="none" stroke="#e31b30" stroke-width="0.45" stroke-linejoin="round" />
<polyline points="283.34,145.73 296.27,145.77 307.49,138.93 322.46,136 333.34,130.92 347.43,128.88 357.35,123.19 370.07,119.96 384.42,113.49 397.41,105.82 411.27,103.75 424,97.93 435,90.85 432.7,78.39 432.5,66.04 422.09,53.9 408.53,40.75 389.31,27.5 383.38,27.5 372.35,71.12 363.38,92.55 353.87,108.97 342.15,116.48 333.63,120.51 322.88,120.69 314.06,123.99 302.17,123.8 293.75,120.65 282.57,121.94" fill="none" stroke="#e31b30" stroke-width="0.45" stroke-linejoin="round" />
<polyline points="280.34,130.39 292.58,134.66 307.36,134.06 321.1,131.73 332.38,129.63 345.25,125.24 356.98,123.55 372.72,123.84 382.69,120.84 395.08,119.21 411.1,109.51 420.45,107.08 435,105.86 432.92,90.61 432.99,69.66 422.8,58.32 410.75,46.1 394.93,27.5 381.76,27.5 371.23,57.38 362.33,79.95 352.28,98.42 341.45,104.97 331.25,113.57 320.96,116.15 311.65,121.6 301.8,120.86 292.69,122.14 281.59,120.84" fill="none" stroke="#e31b30" stroke-width="0.45" stroke-linejoin="round" />
<polyline points="285.87,130.03 298.47,130.77 310.63,127.87 323.42,129.99 334.42,132.18 348.67,130.86 359.85,126.16 370.89,126.56 383.94,127.38 396.89,123.06 410.67,118.94 424.11,115.63 435,115.88 433.37,86.32 434.56,61.04 421.08,51.89 409.09,38.86 396.39,27.5 384.82,27.5 374.78,39.87 364.7,53.18 354.31,60.69 343.42,74.77 331.04,82.89 321.88,97.55 309.72,103.67 300.75,113.98 288.89,124.46 279.22,131.51" fill="none" stroke="#e31b30" stroke-width="0.45" stroke-linejoin="round" />
<polyline points="283.82,133.9 296.38,139.82 307.35,138.01 321.33,136.88 334.35,131.13 346.39,126.38 359.98,124.99 371.8,123.05 384.13,123.06 395.65,114.59 409.21,112 423.57,107.91 435,102.26 433.04,101.39 433.09,96.59 425.05,77.91 416.33,56.67 406.78,27.5 395.72,27.5 384.96,68.8 372.48,94.7 361.16,114.57 349.25,127.03 339.52,135.09 325.95,136.52 316.35,141.67 304.32,140.85 292.76,140.27 281.03,140.74" fill="none" stroke="#e31b30" stroke-width="0.45" stroke-linejoin="round" />
<polyline points="279.84,128.45 294.12,126.91 307.42,127.2 318.01,124.77 333.45,128.91 346.35,128.33 358.7,122.76 370.07,124.85 382.76,119.27 396.63,115.8 408.1,114.66 421.43,115.88 435,109.63 434.62,109.63 431.94,102.79 421.84,80.59 410.46,57.56 398.33,27.5 384.06,27.5 374.68,59.95 364.22,82.81 353.48,96.06 343.3,109.51 331.78,113.45 320.94,117.42 311.79,117.44 299.19,118.11 290.1,120.15 279.1,120.29" fill="none" stroke="#e31b30" stroke-width="0.45" stroke-linejoin="round" />
<polyline points="284.38,143.69 298.03,146.73 309.21,147.65 320.92,143.84 333.72,143.07 346.96,140.38 358.99,135.53 374.39,129.46 385.52,122.82 399.29,114.08 411.64,106.03 423.42,97.28 435,90.15 434.22,76.61 434.16,69.38 424.93,57.61 413.29,43.05 395.09,27.5 390.63,27.5 378.84,71.27 369.41,99.22 357.41,113.19 346.27,117.65 334.38,122.54 324.4,121.78 312.79,123.36 301.67,123.25 290.53,125.63 279.81,124.2" fill="none" stroke="#e31b30" stroke-width="0.45" stroke-linejoin="round" />
<polyline points="279.19,136.39 290.68,140.02 303.17,133.01 317.56,133.48 330.73,129.49 344.85,130.38 357.48,128.37 371.64,125.12 384.53,118.4 394.65,110.68 407.85,107.7 421.09,105.88 435,97.29 432.9,77.55 432.98,60.38 418.37,51.36 404.59,39.97 391.06,27.5 372.26,27.5 362.88,79.6 354.35,107.02 345.2,123.97 336.94,134.13 326.68,136.49 319.15,137.94 309.59,136.75 301.2,139.64 291.92,137.5 283.04,137.94" fill="none" stroke="#e31b30" stroke-width="0.45" stroke-linejoin="round" />
<polyline points="290.4,121.75 304.14,123.81 315.97,124.05 329.04,119.6 339.31,123.11 349.63,121.51 364.29,119.98 375.18,114.98 386.81,114.84 400.88,108.58 412.11,109.71 424.78,106.78 435,106.34 434.66,96.47 433.78,80.72 422.1,66.82 409.69,49.59 393.97,27.5 390.04,27.5 379.82,46.94 368.5,62.66 357.33,81.46 345.56,95.66 333.5,107.07 322.41,117.75 311.17,125.4 299.88,132.22 289.33,140.16 278.32,139.82" fill="none" stroke="#e31b30" stroke-width="0.45" stroke-linejoin="round" />
<polyline points="283.19,145.39 296.47,140.64 309.62,140.07 323.42,132.83 333.51,133.1 345.78,127.22 360.3,122.24 371.33,117.66 386.37,116.79 395.96,115.24 410.75,112.35 422.93,104.21 435,102.04 434.43,96.57 432.33,90.18 421.19,73.79 406.86,52.37 386.87,27.5 379.54,27.5 368.99,85.23 358.97,112.47 349.92,130.17 338.36,134.75 329.85,139.06 318.43,142.05 309,141.37 300.57,139.79 289.2,139.95 279.35,140.67" fill="none" stroke="#e31b30" stroke-width="0.45" stroke-linejoin="round" />
<polyline points="282.32,123.33 296.67,122.72 308.56,120 321.44,121.52 335,116.25 344.41,113.54 357.45,111.59 371.96,109.06 383.56,108.85 395.63,105.95 408.11,101.17 423.49,93.78 435,88.81 433.96,89.21 432.19,84.81 417.06,65.91 402.2,52.28 387.63,27.5 377.95,27.5 368.4,70.44 359.02,100.28 348.31,116.67 337.35,128.59 328.42,135.26 319.19,140.94 307.33,142.21 297.39,141.68 287.92,142.39 278.7,142.68" fill="none" stroke="#e31b30" stroke-width="0.45" stroke-linejoin="round" />
<polyline points="284.04,135.3 294.6,130.71 309.88,129.91 323.25,128.1 333.76,124.51 345.67,128.1 358.87,125.99 372.15,119.38 383.35,115.32 397.02,110.77 410.85,105.75 423.07,105.85 435,97.96 434.54,94.51 433.36,89.16 419.31,71.72 405.87,52.59 391.78,27.5 390.23,27.5 380.3,65.79 368.91,94 356.8,113.18 344.44,127.82 335.31,135.36 323.59,141.48 313.27,144.74 300.91,144.08 290.8,145.19 278.71,143.97" fill="none" stroke="#e31b30" stroke-width="0.45" stroke-linejoin="round" />
<polyline points="288.82,121.86 299.19,122.64 312.7,124.52 324.6,117 336.46,118.71 351.1,119.55 360.1,114.45 374.55,116.67 387.54,109.92 398.81,111.84 412.23,110.29 424.7,106.29 435,104.93 433.57,89.54 433.63,80.7 422.65,62.3 412.33,50.62 402.03,27.5 383.81,27.5 374.36,69.6 362.93,98.87 354.34,114.51 344.24,122.24 334.51,122.75 323.96,127.28 312.1,127.9 302.07,124.62 294.09,125.11 282.76,126.17" fill="none" stroke="#e31b30" stroke-width="0.45" stroke-linejoin="round" />
<polyline points="283.18,125.36 296.21,126.84 308.33,128.62 322.03,123.15 335.49,120.72 348.79,119.57 358.83,117.12 373.19,119.07 383.02,110.59 396.15,107.54 411.61,106.97 422.57,105.33 435,98 433.53,79.74 434.4,57.91 421.01,49.92 410.28,41.87 401.56,27.5 387.13,27.5 375.88,79.93 365.72,114.32 354.83,130.65 344.08,138.88 333.19,143.6 321.67,142.02 311.51,144.86 300.42,144.81 291.11,144.03 279.23,144.6" fill="none" stroke="#e31b30" stroke-width="0.45" stroke-linejoin="round" />
<polyline points="283.45,149.92 297.44,143.14 309.3,142.41 322.08,142.47 335.19,139.57 347.7,137.27 360.48,136.87 373.68,130.46 384.79,125.85 396.76,123.58 411.46,118.3 421.91,109.69 435,103.85 434.36,79.02 434.57,58.13 422.89,51.03 411.93,37.39 399.26,27.5 397.19,27.5 385.19,60.49 372.5,86.98 362.52,103.27 349.27,114.21 336.91,124.59 324.78,128.34 313,133.49 302.78,132.79 289.52,134.48 278.03,134.25" fill="none" stroke="#e31b30" stroke-width="0.45" stroke-linejoin="round" />
<polyline points="280.98,133.15 293.65,130.53 306.87,130.54 319.83,127.85 332.27,122.98 343.61,123.9 358.55,119.47 372.09,122.03 383.08,117.75 397.82,114.58 408.6,114.74 421.91,111.25 435,107.84 432.91,85.45 433.58,61.69 426.45,49.16 416.96,39.96 402.7,27.5 384.72,27.5 373.72,49.41 364.18,66.23 353.58,78.92 341.45,93.71 331.09,99.44 320.66,108.34 308.96,112.78 300.58,115.49 288.54,117.51 278.26,118.72" fill="none" stroke="#e31b30" stroke-width="0.45" stroke-linejoin="round" />
<polyline points="292.23,130.37 304.28,130.52 313.19,133.57 328.33,133.55 340.19,128.12 349.47,125.59 363.67,128.58 374.29,123.47 387.37,121.95 400.26,121.33 412.29,114.14 424.3,114.82 435,111.14 434.06,88.58 434.72,68.5 419.19,58.07 405.52,44.84 390.93,27.5 389.21,27.5 379.22,63.53 368.74,88.58 358.2,103.57 345.89,113.6 336.34,119.5 326.02,120.1 314.84,121.55 304.54,123.34 291.95,123.81 282.02,121.91" fill="none" stroke="#e31b30" stroke-width="0.45" stroke-linejoin="round" />
<polyline points="280.11,123.26 291.66,123.67 305.08,122.52 318.23,126.13 331.74,123 344.84,122.27 357.45,117.97 370.06,111.87 384.37,108.8 396.08,105.6 409.64,97.34 421.13,95.87 435,86.97 433.22,85.33 434.71,84.5 423.35,65.75 413.57,49.55 403.72,27.5 386.15,27.5 377.06,53.38 366.43,75.18 356.16,91.38 345.95,102.52 335.32,105.95 324.64,109.87 312.88,113.07 302.49,113.68 293.97,113.12 282.87,114.91" fill="none" stroke="#e31b30" stroke-width="0.45" stroke-linejoin="round" />
<polyline points="284.22,125.27 296.54,127.3 309.29,124.48 319.81,124.69 332.6,120.83 345.1,116.6 359.54,118.2 372.6,110.73 382.71,107.9 397,103.36 411.3,101.71 423.48,100.92 435,94.81 433.24,93.94 434.26,92.34 417.34,72.09 401.36,52.55 382.91,27.5 379.76,27.5 370.53,58.14 360.11,81.94 350.21,94.99 339.39,107.72 329.5,113.16 319.7,114.81 311.18,118.49 301.12,117.41 289.18,118.21 280.18,117.91" fill="none" stroke="#e31b30" stroke-width="0.45" stroke-linejoin="round" />
<polyline points="290.03,151 302.56,145.81 314.92,144.42 327.82,147 337.16,138.69 350.68,138.61 364.12,136.75 374.71,129.88 387.62,131.77 397.97,123.02 411.34,122.91 424.46,118.6 435,115.33 433.55,97.08 434.99,77.03 425.05,63.03 415.33,48.22 402.73,27.5 393.03,27.5 381.93,64.54 370.74,88.5 358.25,106.88 346.45,122.95 334.88,126.66 325.69,131.09 313.01,132.92 302.46,136.25 288.94,136.48 278.75,135.12" fill="none" stroke="#e31b30" stroke-width="0.45" stroke-linejoin="round" />
<polyline points="278.49,138.64 293.3,135.36 304.02,135.69 316.25,133.87 329.13,130.22 343.55,124.78 357,126.13 370.95,120.1 383.2,112.75 395.62,108.58 407.29,104.05 420.39,96.21 435,89.17 434.15,76.88 432.02,57.33 422.61,45.96 409.35,38.29 390.17,27.5 384.3,27.5 373.19,56.28 363.88,78.26 352.31,95.45 341.1,108.12 332.4,117.68 319.73,127.07 310.38,127.83 298.12,132 289.93,129.13 278.08,131.12" fill="none" stroke="#e31b30" stroke-width="0.45" stroke-linejoin="round" />
<polyline points="278.23,131.27 293.7,128.18 307.52,123.89 320.18,124.1 331.68,120.82 345.04,122.18 357.64,117.98 370.36,115.49 383.34,112.4 395.53,113.24 411.02,106.8 421.25,103.96 435,103.92 434.33,98.37 434.95,88.32 422.28,67.75 411.92,51.18 402.15,27.5 384.99,27.5 373.32,42.63 365.08,60.5 352.16,76.41 343.09,86.71 331.22,98.53 321.94,109.29 310.72,117.8 300.98,128.4 289.24,131.82 279.56,133.28" fill="none" stroke="#e31b30" stroke-width="0.45" stroke-linejoin="round" />
<polyline points="287.71,148.95 300.88,144.94 310.43,144.77 324.93,143.29 335.2,139.79 347.09,139.55 359.74,135.14 374.68,128.15 385.4,126.21 399.32,121.47 409.35,120.15 424.19,116.52 435,114.82 433.19,94.96 434.87,76.54 416.66,61.57 401.57,46.63 386.99,27.5 386.85,27.5 376.94,78.08 364.44,106.67 354.01,123.19 343.13,134.09 332.1,135.99 321.45,140.31 312.05,139.02 299.99,140.23 291.19,142.06 279.36,139.93" fill="none" stroke="#e31b30" stroke-width="0.45" stroke-linejoin="round" />
<polyline points="279.7,132.04 293.55,134.99 305.5,133.08 317.94,133.67 330.25,126.39 346.06,129.7 359.25,125.41 371.3,120.84 383.15,116.77 394.43,111.08 408.2,102.59 422.56,100.58 435,91.92 433.5,88.93 432.71,89.45 421.78,69.67 411.1,51 401.19,27.5 384.83,27.5 373.66,55.43 364.4,77.38 352.78,95.39 343.77,111.24 332.81,117.45 321.28,127.34 310.07,129.21 300.97,131.93 290.77,129.96 279.79,131.94" fill="none" stroke="#e31b30" stroke-width="0.45" stroke-linejoin="round" />
<polyline points="280.06,129.77 292.8,128.26 305.27,121.49 317.92,125.01 332.67,118.8 344.08,118.75 356.19,122.42 369.09,117.14 384.17,118.96 394.72,116.6 408.15,114.93 422.96,113.53 435,111.29 432.85,86.72 431.95,63.47 421.73,54.16 410.17,43.35 397.68,27.5 387.38,27.5 377.57,47.22 365.87,61.7 354.84,78.97 344.47,90.73 334.34,99.48 323.32,110.89 313.61,117 302.52,122.84 290.78,125.06 280.35,124.94" fill="none" stroke="#e31b30" stroke-width="0.45" stroke-linejoin="round" />
<polyline points="281.38,143.99 296.33,138.46 306.76,143.65 322.14,135.79 333.04,134.08 346.46,132.16 357.08,135.55 372.78,129.45 382.73,123.98 395.02,124.33 410.51,116.58 422.35,113.26 435,109.49 434.17,91.47 434.27,75.24 426.56,60.29 417.64,48.25 404.96,27.5 387.68,27.5 377.13,60.63 365.87,83.92 355.08,103.1 343.61,113.39 334.5,118.32 322.4,122.94 312.81,126.54 301.72,129.46 290.94,127.61 279.94,128.63" fill="none" stroke="#e31b30" stroke-width="0.45" stroke-linejoin="round" />
<polyline points="283.57,137.17 295.94,131.6 305.99,134.46 319.02,133.63 331.76,127.24 346.34,128.1 358.46,122.63 371.97,120.1 384.87,121.96 395.28,115.25 409.25,113.06 423.08,110.3 435,109.84 432.88,100.39 433.49,93.47 422.05,74.44 408.45,53.42 389.2,27.5 382.74,27.5 371.82,44.23 361.46,64.42 352.26,78.15 341.82,92.45 332.24,104.62 321.84,115.34 311.78,123.25 301.39,127.55 292.23,132.08 281.34,132.65" fill="none" stroke="#e31b30" stroke-width="0.45" stroke-linejoin="round" />
<polyline points="278.73,124.96 291.58,123.06 303.6,124.44 316.83,122.1 330.11,121.66 345.52,117.95 356.16,119.98 370.39,114.83 383.17,116.96 396.33,109.97 409.2,109.02 421.43,109.12 435,106.35 433.25,95.76 433.4,85.77 425.9,70.57 418.93,50.49 413.28,27.5 394.94,27.5 384.16,71.17 372.07,93.36 359.57,108.24 348.65,114.01 336.04,117.66 326.18,121.27 312.91,122.35 303.09,121.74 290.27,119.36 279.51,120.98" fill="none" stroke="#e31b30" stroke-width="0.45" stroke-linejoin="round" />
<polyline points="283.97,133.47 296.29,133.33 308.67,131.4 323.74,127.86 334.51,124.93 345.98,125.46 359.05,121.85 370.71,117.99 385.27,110.82 397.22,104.75 410.61,100.75 423.75,97.79 435,90.81 434.32,78.57 432.78,68.84 418.69,54.19 405.79,46.34 394.43,27.5 380.98,27.5 370.77,48.73 360.67,69.06 351.31,88.57 340.23,103.86 330.47,114.19 320.33,126.32 311.42,129.32 300.83,137.26 289.97,137.64 280.77,138.75" fill="none" stroke="#e31b30" stroke-width="0.45" stroke-linejoin="round" />
<polyline points="287.31,130.32 298.61,132.99 309.12,130.98 323.89,125.04 337.13,124.51 347.23,120.49 361.54,113.74 373.54,112.1 384.27,109.18 396.15,103.33 410.47,100.77 423.94,99.77 435,93.34 434.4,88.81 433.39,86.55 417.61,69.53 399.31,51.72 373.37,27.5 369.14,27.5 360.47,64.61 350.67,88.06 340.75,100.67 332.69,109.7 323.44,115.24 313.55,118.38 304.93,116.74 295.52,119.05 287.66,117.39 278.05,117.97" fill="none" stroke="#e31b30" stroke-width="0.45" stroke-linejoin="round" />
<polyline points="287.41,136.29 301.12,137.44 311.46,134.97 322.85,132.46 335.87,129.51 350.47,134.65 360.07,128.98 374.29,130.42 385.2,123.36 399.75,125.57 411.17,119.05 423.29,120.28 435,116.9 433.41,97.84 434.83,84.75 415.88,68.67 399.85,48.07 383.77,27.5 382.54,27.5 371.84,51.45 361.68,72.13 351.09,88.55 341.74,98.73 331.04,111.42 320.13,113.56 308.93,120.92 299.38,121.09 289.81,121.82 278.99,122.15" fill="none" stroke="#e31b30" stroke-width="0.45" stroke-linejoin="round" />
<polyline points="284.19,135.13 299.97,130.05 309.68,129.4 321.55,125.39 333.96,121.65 347.47,123.15 359.85,121.54 372.33,117.85 383.53,112.99 398.98,107.87 410.31,109.1 422.41,104.97 435,100.03 434.54,90.27 433.53,81.01 420.31,62.9 406.97,46.96 391.5,27.5 390.18,27.5 379.94,74.94 368.76,100 355.59,114.41 345.2,118.03 333.69,125.06 324.07,124.79 311.52,122.26 299.96,126.07 289.71,122.23 278.61,124.39" fill="none" stroke="#e31b30" stroke-width="0.45" stroke-linejoin="round" />
<polyline points="283.55,146.72 294.02,148.44 307.37,143.79 322.29,143.62 334.25,145.63 344.42,143.59 358.72,139.13 373.46,136.92 384.74,131.35 395.77,123.21 410.85,120.32 422.26,117.07 435,108.11 432.91,92.27 432.47,81.18 420.57,67.11 408.78,50.27 397.6,27.5 380.23,27.5 370.82,53.71 360.63,74.1 350.15,89.7 339.91,104.41 331.05,110.24 320.69,116.37 310.91,117.51 300.43,120.71 290.4,122.9 280.78,121.21" fill="none" stroke="#e31b30" stroke-width="0.45" stroke-linejoin="round" />
<polyline points="286.36,139.4 299.7,137.67 309.9,139.55 320.96,136.72 335.68,135.24 346.33,131.2 358.79,129.79 372.65,122.58 384.52,118.55 396.91,117.52 411.18,108.64 423.12,102.08 435,97.33 434.65,95.79 432.94,94.86 419.92,72.6 408.31,53.94 398.77,27.5 384.98,27.5 374.48,57.07 362.83,81.38 354.17,99.73 344.13,110.78 331.46,120.53 323.33,123.92 312.55,125.67 301.62,130.91 290.18,127.25 280.21,129.16" fill="none" stroke="#e31b30" stroke-width="0.45" stroke-linejoin="round" />
<polyline points="279.55,131.65 291.41,135.65 303.78,130.75 317.72,131 331.35,129.67 343.5,130.32 358.45,125.37 369.68,121.53 381.5,116.49 395.55,115.34 408.22,112.79 422.92,103.55 435,99.34 432.97,94.2 433.32,87.64 423.67,69.75 411.74,52.28 394.81,27.5 389.07,27.5 379.2,75.28 367.7,101.38 356.97,123.23 345.93,133.08 332.66,137.41 321.64,138.16 310.87,138.8 299.61,139.04 290.18,142.2 278.67,140.54" fill="none" stroke="#e31b30" stroke-width="0.45" stroke-linejoin="round" />
<polyline points="285.67,146.86 299.41,148.89 309.79,142.65 322.08,145.14 336.64,136.21 346.55,139.22 360.42,131.59 373.39,126.94 385.2,125.7 397.17,117.99 411.97,112.33 423.12,105.36 435,100.25 434.74,84.42 434.37,64.5 418.23,51.46 402.89,44.31 384.84,27.5 379.15,27.5 369.88,70.98 358.25,96.57 349.23,110.55 339.84,117.47 330.8,120.23 319.73,124.05 309.18,124.04 300.96,123.4 289.34,124.92 280.31,123.68" fill="none" stroke="#e31b30" stroke-width="0.45" stroke-linejoin="round" />
<polyline points="289.7,145.45 302.87,148.83 315.34,145.31 326.95,144.88 338.38,139.14 351.89,135.01 362.54,136.65 375.14,132.34 388.08,122.29 399.96,123.53 411.11,114.95 423.92,108.2 435,105.26 434.99,77.62 433.48,57.15 423.97,49.79 413.49,40.21 400.44,27.5 384.06,27.5 373.18,42.82 362.85,56.86 352.72,70.44 343.3,82.63 331.08,90.34 321.4,99.61 309.8,107.43 300.39,111.29 289.8,112.38 279.19,114.94" fill="none" stroke="#e31b30" stroke-width="0.45" stroke-linejoin="round" />
<polyline points="285.95,151 296.6,150.54 309.68,151 321.34,146.1 336.3,148.38 346.27,144.58 361.23,139.78 371.72,135.05 385.87,130.93 397.85,124.43 410.19,119.96 422.22,112.21 435,107.98 433.56,85.41 434.63,68.51 420.09,55.77 407.03,42.53 392.76,27.5 386.42,27.5 375.82,68.05 364.55,91.39 354.82,105.24 344.02,112.93 332.91,118.03 322.35,116.08 311.14,119.21 300.87,116.94 288.6,115.55 278.82,117.55" fill="none" stroke="#e31b30" stroke-width="0.45" stroke-linejoin="round" />
<polyline points="278.72,146.26 292.25,142.31 306.21,139.98 316.99,138.13 333.05,133.38 346.28,127.76 356.29,122.67 368.85,120.74 383.69,115.64 394.69,109.34 408.24,102.82 420.93,103.87 435,97.07 432.94,93.56 434.29,94.6 420.91,74.34 408.39,52.2 394.39,27.5 384.23,27.5 373.65,61.53 364.3,89.01 353.28,101.74 342.51,113.24 331.93,118.52 320.82,123.33 309,124.65 298.53,125.12 287.97,124.1 278.37,125.75" fill="none" stroke="#e31b30" stroke-width="0.45" stroke-linejoin="round" />
<polyline points="281.03,145.76 294.11,144.99 305.49,140.47 318.2,137.99 331.91,140.21 342.75,134.72 356.83,128.26 368.68,128.64 384.24,126.59 396.91,122.82 408.1,121.61 422.41,114.05 435,111.75 434.76,99.42 432.27,82.3 425.24,67.49 417.16,50.7 409.24,27.5 397.83,27.5 387.87,42 375.28,53.58 364.12,66.35 352.78,74.89 341.66,91.16 330.3,100.22 319.96,114.24 309.33,123.6 297.41,131.82 285.95,143.31" fill="none" stroke="#e31b30" stroke-width="0.45" stroke-linejoin="round" />
<polyline points="285.64,128.05 296.02,126.61 311.01,131.9 321.36,130.57 334.76,128.3 346.98,124.53 360.05,122.02 370.82,120.94 386.35,114.63 397.91,112.66 408.3,104.92 422.98,97.23 435,94.8 432.71,94.49 433.2,92.33 417.36,71.42 402.93,51.8 389.16,27.5 376.55,27.5 366.59,58.77 357.29,83.74 346.78,97.45 339.3,109.19 329.91,114.35 319.35,120.07 310.14,121.21 300.59,118.63 291.37,118.83 281.18,120.87" fill="none" stroke="#e31b30" stroke-width="0.45" stroke-linejoin="round" />
<polyline points="281.15,133.08 293.28,134.98 306.87,128.5 320.66,132.65 332.72,128.22 346.72,122.49 357.64,123.34 369.11,118.92 382.46,112.91 396.57,110.8 407.81,109.13 421.01,104.31 435,97.08 433.72,79.14 433.69,61.38 423.34,51.66 412.7,40.26 400.24,27.5 399.18,27.5 387.85,39.23 376.87,44.79 363.47,54.03 351.13,66.37 340.84,76.77 327.52,84.1 317.79,92.08 304.92,101.38 292.28,111.35 281.67,118.61" fill="none" stroke="#e31b30" stroke-width="0.45" stroke-linejoin="round" />
<polyline points="284.61,141.89 299.34,140.62 311.11,138.83 324.72,134.3 336.19,129.01 346.13,128.5 360.47,121.47 371.47,118.3 385.41,111.59 398.78,106.76 411.88,102.55 423.93,93.33 435,87.15 433.03,73.13 433.7,64.54 421.72,53.49 411.07,42.11 401.34,27.5 393.21,27.5 383.33,46.79 370.33,68.1 359.94,83.97 348.07,98.46 337.57,112.35 326.83,122 315.11,129.95 305.02,137.69 293.7,142.07 283.41,145.35" fill="none" stroke="#e31b30" stroke-width="0.45" stroke-linejoin="round" />
<polyline points="282.92,143.88 293.24,144.17 306.02,144.12 319.22,143.97 331.99,143.04 345.73,134.26 357.85,134.69 372.32,129 382.43,124.53 397.45,111.53 410.17,106.72 423.02,97.24 435,89.96 434.64,77.7 432.85,72.86 422.95,57.31 412.48,46.17 401.23,27.5 384.32,27.5 372.87,69.25 363.65,90.86 351.84,105.13 343.08,111.17 331.26,113.48 321.14,118.02 310,118.48 300.68,116.93 288.05,115.47 278.4,116.56" fill="none" stroke="#e31b30" stroke-width="0.45" stroke-linejoin="round" />
<polyline points="286.27,137.61 295.57,134.9 310.46,133.66 321.61,134.76 335.97,131.68 346.5,132.75 360.66,128.62 374.02,121.43 384.69,121.73 395.64,114.87 410.78,112.73 422.2,104.94 435,97.61 433.93,94.56 434.29,94.4 422.75,73.91 410.31,53.68 393.43,27.5 384.35,27.5 374.96,58.23 363.71,85.55 352.95,99.36 341.87,111.23 331.2,116.86 320.35,118.19 309.12,121.97 299.05,123.12 288.23,123 278.51,122.53" fill="none" stroke="#e31b30" stroke-width="0.45" stroke-linejoin="round" />
<polyline points="278.96,135.06 293.62,135.62 304.07,138.92 318.82,132.9 331.15,131.29 344.67,134.46 359.03,125.34 369.75,122.79 382.05,120.33 396.66,118.09 410.41,115.55 420.83,107.79 435,103.2 433.41,91.16 433.36,75.01 425.15,61.23 416.33,45.12 406.36,27.5 392.53,27.5 382.43,61 369.23,85.43 359.95,103.53 347.17,114.39 336.86,125.2 324.24,127.43 314.72,131.63 303.86,131.65 290.65,132 280.24,132.53" fill="none" stroke="#e31b30" stroke-width="0.45" stroke-linejoin="round" />
<polyline points="283.43,133.93 295.94,134.43 307.25,128.48 320.91,128.39 333.27,122.32 346.33,120.9 360.43,116.22 371.9,112.42 385.27,112.1 397.1,106.85 409.99,102.16 422.06,97.17 435,95.46 433.2,78.79 433.85,57.18 420.5,45.93 405.69,40.77 385.41,27.5 384.85,27.5 374.51,61.85 364.9,87.06 354.44,102.87 342.75,109.96 333.02,115.9 321.04,120.07 311.71,119.64 301.11,117.35 291.06,120.84 279.64,119.3" fill="none" stroke="#e31b30" stroke-width="0.45" stroke-linejoin="round" />
<polyline points="289.49,143.27 300.42,144.27 315.09,137.4 324.15,140.21 337.9,132.79 350.19,128.07 361.42,128.01 372.95,120.9 385.35,119.56 400.09,114.6 410.05,103.92 421.92,102.06 435,93.43 434.17,90.85 433.07,90.96 424.11,73.71 412.84,51.94 397.17,27.5 384.71,27.5 375.3,52.27 363.46,72.37 354.82,86.89 343.5,100.84 334.03,112.12 322.85,119.16 312.46,125.77 301.87,128.39 293.46,129.72 282.38,128.78" fill="none" stroke="#e31b30" stroke-width="0.45" stroke-linejoin="round" />
<polyline points="278,101.6 281.93,109.01 288.99,101.6 325.1,97.9 348.65,86.78" fill="none" stroke="#e31b30" stroke-width="0.45" stroke-linejoin="round" />
<polyline points="337.66,76.9 339.23,28.73 362.78,27.5 420.87,27.5 424.01,39.85 430.29,58.38" fill="none" stroke="#e31b30" stroke-width="0.45" stroke-linejoin="round" />
<polyline points="317.25,95.42 343.94,83.07 345.51,28.73 362.78,27.5" fill="none" stroke="#e31b30" stroke-width="0.45" stroke-linejoin="round" />
<polyline points="362.78,27.5 367.49,37.38 354.93,69.49 332.95,86.78" fill="none" stroke="#e31b30" stroke-width="0.45" stroke-linejoin="round" />
<polyline points="409.88,29.97 416.16,54.67 406.74,74.43 387.9,76.9 375.34,89.25" fill="none" stroke="#e31b30" stroke-width="0.45" stroke-linejoin="round" />
<text x="365.6" y="21.6" text-anchor="middle">Nucleus</text>
<text x="445.7" y="31.4" text-anchor="middle">Nuclear</text>
<text x="445.7" y="39.2" text-anchor="middle">export</text>
<line x1="365.3" y1="36.4" x2="289.68" y2="96.8" stroke="#231f20" stroke-width="0.75"/>
<path d="M287.8,98.3 L289.66,94.87 L291.55,97.24 Z" fill="#231f20"/>
<text x="324.5" y="64.5" text-anchor="middle" transform="rotate(321.39 324.5 64.5)">Cdc13–Cdc2(WT) degradation</text>
<path d="M443.7,75.7 C447.3,40.4 429.5,15.8 399.29,19.25" fill="none" stroke="#231f20" stroke-width="0.75"/>
<path d="M397.1,19.5 L400.5,17.58 L400.84,20.6 Z" fill="#231f20"/>
<line x1="507.3" y1="151.2" x2="663.4" y2="151.2" stroke="#231f20" stroke-width="0.5"/>
<line x1="507.3" y1="151.2" x2="507.3" y2="28" stroke="#231f20" stroke-width="0.5"/>
<line x1="507.3" y1="151.2" x2="507.3" y2="148" stroke="#231f20" stroke-width="0.5"/>
<line x1="522.91" y1="151.2" x2="522.91" y2="148" stroke="#231f20" stroke-width="0.5"/>
<line x1="538.52" y1="151.2" x2="538.52" y2="148" stroke="#231f20" stroke-width="0.5"/>
<line x1="554.13" y1="151.2" x2="554.13" y2="148" stroke="#231f20" stroke-width="0.5"/>
<line x1="569.74" y1="151.2" x2="569.74" y2="148" stroke="#231f20" stroke-width="0.5"/>
<line x1="585.35" y1="151.2" x2="585.35" y2="148" stroke="#231f20" stroke-width="0.5"/>
<line x1="600.96" y1="151.2" x2="600.96" y2="148" stroke="#231f20" stroke-width="0.5"/>
<line x1="616.57" y1="151.2" x2="616.57" y2="148" stroke="#231f20" stroke-width="0.5"/>
<line x1="632.18" y1="151.2" x2="632.18" y2="148" stroke="#231f20" stroke-width="0.5"/>
<line x1="647.79" y1="151.2" x2="647.79" y2="148" stroke="#231f20" stroke-width="0.5"/>
<line x1="663.4" y1="151.2" x2="663.4" y2="148" stroke="#231f20" stroke-width="0.5"/>
<line x1="507.3" y1="138.88" x2="510.5" y2="138.88" stroke="#231f20" stroke-width="0.5"/>
<line x1="507.3" y1="126.56" x2="510.5" y2="126.56" stroke="#231f20" stroke-width="0.5"/>
<line x1="507.3" y1="114.24" x2="510.5" y2="114.24" stroke="#231f20" stroke-width="0.5"/>
<line x1="507.3" y1="101.92" x2="510.5" y2="101.92" stroke="#231f20" stroke-width="0.5"/>
<line x1="507.3" y1="89.6" x2="510.5" y2="89.6" stroke="#231f20" stroke-width="0.5"/>
<line x1="507.3" y1="77.28" x2="510.5" y2="77.28" stroke="#231f20" stroke-width="0.5"/>
<line x1="507.3" y1="64.96" x2="510.5" y2="64.96" stroke="#231f20" stroke-width="0.5"/>
<line x1="507.3" y1="52.64" x2="510.5" y2="52.64" stroke="#231f20" stroke-width="0.5"/>
<line x1="507.3" y1="40.32" x2="510.5" y2="40.32" stroke="#231f20" stroke-width="0.5"/>
<line x1="507.3" y1="28" x2="510.5" y2="28" stroke="#231f20" stroke-width="0.5"/>
<text x="507.3" y="160.3" text-anchor="middle">0</text>
<text x="538.52" y="160.3" text-anchor="middle">0.2</text>
<text x="569.74" y="160.3" text-anchor="middle">0.4</text>
<text x="600.96" y="160.3" text-anchor="middle">0.6</text>
<text x="632.18" y="160.3" text-anchor="middle">0.8</text>
<text x="663.4" y="160.3" text-anchor="middle">1.0</text>
<text x="502.9" y="141.18" text-anchor="end">0.1</text>
<text x="502.9" y="116.54" text-anchor="end">0.3</text>
<text x="502.9" y="91.9" text-anchor="end">0.5</text>
<text x="502.9" y="67.26" text-anchor="end">0.7</text>
<text x="502.9" y="42.62" text-anchor="end">0.9</text>
<text x="474.8" y="8.2" style="font-size:10px;font-weight:bold;fill:#000;">d</text>
<text x="584.3" y="172.1" text-anchor="middle">Normalized cytoplasmic Cdc13–Cdc2(WT)–mNG</text>
<text x="585.3" y="180.3" text-anchor="middle">mean intensity</text>
<text x="479.4" y="88.9" text-anchor="middle" transform="rotate(-90 479.4 88.9)">CytCDK V2 sensor (N/C)</text>
<text x="486.8" y="88" text-anchor="middle" transform="rotate(-90 486.8 88)">normalized</text>
<polyline points="513.36,150.09 522.74,142.39 529.49,145.36 538.16,146.37 547.2,145.57 554.96,145.33 564.62,142.84 573.81,135.36 582.27,130.91 590.55,124.68 600.96,119.08 609.31,108.24 617.91,100.86 626.93,88.79 635.7,73.28 646.38,58.74 654.12,46.88 663.4,28 648.51,35.79 633.33,42.16 617.27,45.53 601.84,56.75 586.54,62.29 572.61,73.01 557.28,79.13 542.7,93.03 527.42,109.31 512.09,141.9" fill="none" stroke="#2e3192" stroke-width="0.45" stroke-linejoin="round" />
<polyline points="508.81,142.74 519.85,144.24 528.01,140.76 540.42,141.06 549.92,141.19 559.65,139.01 570.55,131.97 579.63,125.98 591.92,120.96 601.23,111.54 612.9,102.47 620.83,90.25 631.95,76.18 642,63.04 652.62,46.51 663.4,28 648.52,42.91 632.23,52.07 616.02,64.93 600.88,77.02 586.64,91.22 569.58,102.12 553.99,111.38 537.91,123.05 522.55,132.4 507.57,142.5" fill="none" stroke="#2e3192" stroke-width="0.45" stroke-linejoin="round" />
<polyline points="509.39,138.68 520.8,141.1 532.72,139.61 542.99,136.91 554.42,140.15 564.15,139.24 576.58,135.66 586.88,134.9 598.58,127.47 609.8,122.06 620.28,113.29 631.61,97.28 640.57,80.73 652.56,59.55 663.4,28 647.24,37.98 633.41,47.18 618.3,54.76 603.59,66.09 588.78,72.69 572.57,83.25 559.78,94.25 543.93,108.46 529.95,122.42 513.98,142.96" fill="none" stroke="#2e3192" stroke-width="0.45" stroke-linejoin="round" />
<polyline points="511.12,140.9 511.48,141.96 522.78,142.56 533.54,143.32 545.07,139.69 555.78,136.98 566.13,130.23 575.5,123.77 587.78,117.88 598.11,109.03 608.41,101.82 619.23,88.08 630.51,77.65 641.8,61.5 653.25,47.57 663.4,28 649.05,43.16 633.15,56.36 616.4,74.57 601.94,87.61 585,100.58 569.21,112.86 555.8,120.08 539.67,132.24 523.59,139.84 507.99,144.83" fill="none" stroke="#2e3192" stroke-width="0.45" stroke-linejoin="round" />
<polyline points="507.61,142.78 515.09,143.45 527.23,147.05 530.9,144.89 541.21,141.37 549.26,144.09 559.28,143.58 570.39,140.56 579.63,139.27 588.98,136.27 598.63,132.58 606.43,130.71 616.56,122.23 625.34,110.53 634.89,95.02 644,79.85 654.26,56.12 663.4,28 647.21,39.83 631.88,49.94 617.68,60.3 602.23,73.98 586.41,84.26 571.83,94.27 556.39,104.3 540.54,118.6 523.86,129.47 509.69,140.45" fill="none" stroke="#2e3192" stroke-width="0.45" stroke-linejoin="round" />
<polyline points="510.08,141.87 519.53,148.21 530.25,146.61 539.83,148.45 542.64,146.78 551.07,146.24 561.88,143.27 568.95,143.85 577.79,142.27 586.81,144.52 594.32,141.52 603.17,138.38 612.3,133.89 620.76,123.41 629.61,116.8 637.66,102.66 646.72,80.36 655.47,56.31 663.4,28 647.57,36.25 632.21,41.33 617.3,49.73 600.6,56.46 587.07,68.5 569.96,75.83 554.84,88.65 541.16,98.79 524.01,114.93 509.35,141.7" fill="none" stroke="#2e3192" stroke-width="0.45" stroke-linejoin="round" />
<polyline points="517.22,141.52 527.93,145.31 534.56,142.62 543.29,145.59 553.31,145.03 559.16,143.22 569.11,145.88 577.25,143.89 584.09,146 592.05,141.67 601.08,140.95 606.72,139.99 615.97,132.02 624.54,127.62 630.72,116.93 638.43,102.76 648.22,83.56 656.62,59.07 663.4,28 649.16,42.96 634.28,54.83 620.15,66.35 603.9,78.57 591.26,93.1 574.91,104.63 559.99,115.26 546.47,123.86 532.63,136.36 516.81,141.5" fill="none" stroke="#2e3192" stroke-width="0.45" stroke-linejoin="round" />
<polyline points="516,148.48 522.33,149.76 528.94,146.91 537.13,144.12 540.48,147.31 549.45,147.44 559.19,146.3 567.23,140.02 575.83,137.21 585.12,130.63 594.3,127.96 601.28,119.33 611.97,111.09 619.48,97.7 629.06,86.78 637.78,76.06 647.08,59.13 654.87,46.62 663.4,28 647.91,35.39 634.16,46.39 619.24,58.03 602.84,66.52 588.57,76.62 573.34,85.85 558.55,98.49 542.94,106.66 526.78,121.66 512.26,136.07" fill="none" stroke="#2e3192" stroke-width="0.45" stroke-linejoin="round" />
<polyline points="511.89,145.34 519.28,147.97 530.51,148 536.66,149.53 547.15,146.72 556.2,144.94 562.86,145.5 571.84,140.78 582.3,136.13 591.41,129.08 599.6,120.34 608.42,108.5 618.3,98.37 626.38,87.53 637.27,74.06 645.27,62.08 654.3,44.35 663.4,28 647.79,42.23 632.7,57.73 615.82,72.13 602.02,85.47 584.75,96.17 570.51,108.32 553.9,117.97 539.75,125.97 524.84,133.22 508.22,137.3" fill="none" stroke="#2e3192" stroke-width="0.45" stroke-linejoin="round" />
<polyline points="508.88,150.71 521.15,148.11 532.17,150.71 538.46,146.61 545.84,149.75 554.3,150.35 563.26,150.96 570.05,147.71 579.9,146.99 587.89,144.9 596.99,138.2 605.02,135.39 613.5,126.26 620.96,118.98 630.41,105.23 636.92,90.56 647.34,74.07 655.14,50.39 663.4,28 647.74,38.29 633.71,50.32 616.96,59.89 601.85,66.5 588.51,76.99 572.27,88.93 557.97,98.56 542.92,104.52 527.27,115.6 512.04,123.7" fill="none" stroke="#2e3192" stroke-width="0.45" stroke-linejoin="round" />
<polyline points="507.73,140.35 515.56,137.84 526.35,144.77 532.72,141.2 534.82,141.6 543.4,142.51 551.62,140.38 562.54,141.81 572.08,140.33 579.21,139.2 589.4,134.4 598.03,129.33 608.95,122.16 617.52,111.12 626.65,102.94 634.59,89.56 644.34,70.02 654.96,52.91 663.4,28 647.23,35.4 633.66,46.58 617.8,55.14 602.11,61.86 586.3,72.48 571.5,83.65 555.7,95.35 540.05,107.19 525.17,118.86 509.63,143.92" fill="none" stroke="#2e3192" stroke-width="0.45" stroke-linejoin="round" />
<polyline points="515.49,139.56 526.39,142.6 537.91,138.96 545.89,145.69 548.57,143.96 557.49,144.44 565.82,142.81 574.53,136.28 582.69,135.86 591.01,130.11 598.49,121.77 607.71,115.16 615.63,107.42 621.75,97.49 629.73,86.27 638.23,71.14 646.58,58.65 655.99,44.73 663.4,28 648.28,42.69 632.85,51.32 617.66,63.79 601.15,74.05 585.57,88.09 570.29,97.08 553.1,106.77 537.67,115.9 523.42,120.73 507.35,126.68" fill="none" stroke="#2e3192" stroke-width="0.45" stroke-linejoin="round" />
<polyline points="507.97,146.49 515.45,142.16 524.45,146.69 532,146.89 541.18,147.09 542.66,145.9 551.7,147.98 558.94,147.77 567.25,143.23 576.64,143.6 586.68,137.39 594.52,136.04 602.85,127.22 610.61,121.66 618.99,113.01 629.34,101.29 636.36,84.82 647.3,66.83 654.4,50.12 663.4,28 647.98,36.17 631.73,48.42 616.92,56.84 603.34,66.27 586.31,75.26 570.65,86.26 556.29,94.8 541.26,106.37 524.74,115.71 510.67,126.68" fill="none" stroke="#2e3192" stroke-width="0.45" stroke-linejoin="round" />
<polyline points="510.61,148.84 519.09,147.75 529.91,147.12 539.5,148.93 546.52,150.36 555.94,149.78 564.88,148.38 573.71,146.27 583.47,145.27 593.1,140.51 600.6,138.71 610.66,129.78 617.78,121.77 627.49,113.04 636.52,98.3 645.26,76.96 654.03,55.95 663.4,28 628.39,28 616.35,33.09 604.12,42.77 593.67,48.18 582.29,54.56 570.44,64.53 559.62,72.2 545.99,85.74 534.08,97.86 524.82,109.78 512.02,143.7" fill="none" stroke="#2e3192" stroke-width="0.45" stroke-linejoin="round" />
<polyline points="510.88,142.46 523.1,143.2 529.97,145.39 540.87,139.97 548.59,142.75 558.65,142.43 566.06,143.38 575.69,139.78 583.19,141.27 592.26,138.14 600.59,132.85 610.48,125.9 619.03,118.88 627.19,107.48 636.35,93.58 645.95,77.45 654.7,54.57 663.4,28 647.2,39.41 631.91,50.75 616.62,65.18 601.67,72.28 586.18,84.53 571.37,95.48 557.45,105.69 541.73,115 525.16,123.7 511.19,131.87" fill="none" stroke="#2e3192" stroke-width="0.45" stroke-linejoin="round" />
<polyline points="510.93,148.64 520.72,147.59 531.47,146.12 544.4,144.48 554.99,139.1 565.94,134.12 575.03,124.77 588.15,118.22 597.08,108.42 609.56,98.24 620.21,89.13 629.96,74.14 642.5,59.02 652.43,46.77 663.4,28 647.93,37.02 633.43,42.81 616.02,51.45 601.17,60.22 585.35,72.37 570.91,80.11 555.22,91.92 539.99,102.73 524.88,116.71 508.88,132.29" fill="none" stroke="#2e3192" stroke-width="0.45" stroke-linejoin="round" />
<polyline points="509.35,147.14 520.39,150.36 525.46,151 535.09,148.48 543.18,149.04 555.41,146.06 564.5,145.44 575.26,142.32 582.94,134.55 594.39,127.79 604.08,120.5 614.25,108.04 624.88,97.91 634.33,83.01 644.2,67.08 653.48,47.61 663.4,28 646.74,42.15 632.62,54.02 615.81,66.82 601.68,77.62 584.66,89.11 570.05,101.73 555.57,112.22 537.95,119.63 522.59,123.54 507.67,128.96" fill="none" stroke="#2e3192" stroke-width="0.45" stroke-linejoin="round" />
<polyline points="507.74,140.99 519.44,140.09 526.33,144.17 535.4,146.77 546.02,140.67 552.94,141.24 562.83,142 569.29,144.61 577.8,139.63 586.97,138.69 595.42,139.38 604.56,132.94 613.45,130.9 621.92,122.23 630.47,111.03 637.66,96.88 647.69,76.91 655,56.09 663.4,28 649.13,39.55 633.41,50.06 616.29,59.67 601.54,74.74 585.42,83.45 569.75,95.5 554.7,107.68 539.13,116.74 523.61,126.18 508.26,138.35" fill="none" stroke="#2e3192" stroke-width="0.45" stroke-linejoin="round" />
<polyline points="512.53,143.89 523.06,138.44 535.37,139 547.66,140.88 555.64,140.84 564.57,140.03 571.72,139.99 579.82,140.83 588.15,140.47 595.25,140.5 601.41,136.3 610.53,133.67 616.52,130.79 624.46,123.55 632.93,114.94 641.62,99.39 648.83,81.2 654.59,57.94 663.4,28 647.4,34.87 631.53,45.03 616.49,49.1 601.11,58.73 585.88,68.58 570.15,76.23 553.85,87.29 537.41,101.47 521.94,114.72 507.44,140.56" fill="none" stroke="#2e3192" stroke-width="0.45" stroke-linejoin="round" />
<polyline points="509.53,145.53 521.51,144.31 526.03,144.22 535.57,143.97 545.93,144.33 554.17,144.44 563.46,143.55 575.47,143.63 584.03,143.08 594.44,139.35 603.6,132.12 612.76,126.25 623.63,117.54 634.67,101.77 643.64,81.95 654.31,60.3 663.4,28 648.12,40.86 633,53.02 616.53,62.44 600.58,74.35 585.34,88.04 570.49,97.44 556.21,106.68 540.65,117.06 523.79,124.05 508.83,128.59" fill="none" stroke="#2e3192" stroke-width="0.45" stroke-linejoin="round" />
<polyline points="508.39,144.22 514.89,147.94 522.9,144.93 533.69,149.06 538.5,146.23 547.93,143.59 557.03,142.47 565.01,144.86 573.91,143.61 583.09,138.28 591.41,132.93 601.68,129.76 608.85,120.7 619.29,113.1 628.35,102.98 636.89,85.22 645.61,71.96 655.41,52.21 663.4,28 647.02,35.7 631.93,48.43 616.77,56.6 600.84,64.06 584.6,74.42 570.92,86.4 554.72,95.4 540.04,109.76 523.63,120.35 507.64,133.93" fill="none" stroke="#2e3192" stroke-width="0.45" stroke-linejoin="round" />
<polyline points="513.21,149.38 524.36,148.53 534.25,149.89 544.84,150.42 557.69,146.42 567.67,144.75 577.36,143.68 588.36,139.42 600.45,131.84 609.42,125.34 621.72,112.6 632.54,96.81 642.85,78.83 653.2,56.85 663.4,28 649.02,42.78 632.71,59.84 618.36,75.73 601.2,86.62 586.48,100.03 570.95,110.65 556.17,121.52 540.71,127.81 525.16,135.79 510.13,139.24" fill="none" stroke="#2e3192" stroke-width="0.45" stroke-linejoin="round" />
<polyline points="507.89,139.27 516.84,139.86 526.01,145.14 535.67,139.57 542.97,140.55 550.9,145.75 557.44,142.48 565.23,144.32 568.99,141.47 574.91,139.74 582.76,139.71 590.12,140.19 595.58,141.98 602.66,138.91 608.69,134.55 616.79,133.97 622.41,126.12 629.61,121.63 637.27,108.85 643.24,94.98 650.29,76.36 655.44,54.83 663.4,28 647.05,38.14 631.49,48.98 617.74,60.33 601.49,74.75 585.4,82.02 571.45,95.52 556.07,105.48 540.44,114.85 522.76,123.27 508.31,131.68" fill="none" stroke="#2e3192" stroke-width="0.45" stroke-linejoin="round" />
<polyline points="510.67,144.34 517.57,139.38 521.56,143.8 533.02,142.68 543.57,141.61 552.4,140.04 561.76,140.94 573.2,135.89 583.46,134.18 591.79,124.94 603.73,118.59 612.53,108.7 622.12,98.84 633.41,85.79 642.88,66.63 654.43,48.86 663.4,28 647.79,38.63 631.4,45.82 616.15,53.99 601.84,64.65 586.39,72.59 570.6,86.07 554.25,95.11 538.7,105.32 523.78,119.46 507.46,142.59" fill="none" stroke="#2e3192" stroke-width="0.45" stroke-linejoin="round" />
<polyline points="509.42,140.26 512.33,140.24 523.46,140.91 533.44,138.55 543.54,137.6 555.15,133.33 566.49,126.07 576.18,123.58 586.49,113.07 599.24,104.59 608.52,95.18 620.09,84.21 630.36,73.64 642.23,60.33 653.75,45.49 663.4,28 647.24,42.28 633.23,55.68 617.32,64.27 601.82,77.48 588.16,87.96 571.86,97.94 556.52,106.51 542.2,114.75 526.58,122.82 510.92,128.45" fill="none" stroke="#2e3192" stroke-width="0.45" stroke-linejoin="round" />
<polyline points="511,142.48 518.57,145.78 526.64,147.43 534.15,145.9 543.31,147.16 553.08,145.34 560.78,145.76 571.28,146.71 578.63,142.36 589.6,141.32 597.44,138.45 607.91,132.98 617.29,124.76 626.18,116.2 636.55,100.2 645.8,79.77 654.7,57.73 663.4,28 647.99,38.42 631.94,49.79 617.93,60.04 601.75,67.77 588.07,78.63 572.09,89.94 557.16,101.88 542.7,111.54 527.5,126.04 511.31,135.64" fill="none" stroke="#2e3192" stroke-width="0.45" stroke-linejoin="round" />
<polyline points="508.74,137.24 520.34,140.99 529.21,142.18 536.43,143.11 544.61,142.93 554.59,138 559.93,141.44 567.2,141.61 575.33,141.08 581.18,137.17 589.14,137.6 597.96,134.06 603.14,128.3 612.11,122.78 618.71,112.67 625.68,103.3 634.39,95.06 640.98,80.31 648.7,67.06 657,49.08 663.4,28 647.84,36.56 633.17,42.33 617.24,47.3 603.16,56.19 585.47,66.82 571.93,76.43 556.41,84.7 539.6,94.62 525.17,110.91 509.82,140.47" fill="none" stroke="#2e3192" stroke-width="0.45" stroke-linejoin="round" />
<polyline points="515.04,144.3 526.4,145.71 537.81,143.58 546.65,143.54 556.55,143.35 564.63,145.84 572.62,143.29 583.26,142.39 592.03,139.21 599.77,134.34 610.13,126.01 618.36,116.09 627.84,105.68 636.27,93.54 644.24,74.19 654.44,53 663.4,28 646.78,40.13 632.87,49.16 618.25,59.36 601.92,73.28 586.88,82.53 570.87,92.74 556.34,103.8 539.77,112.64 523.68,117.28 508.94,124.88" fill="none" stroke="#2e3192" stroke-width="0.45" stroke-linejoin="round" />
<polyline points="512.02,138.52 519.95,140.76 527.11,142.74 535.92,144.3 544.64,142.97 556.34,142.25 565.06,139.93 573.85,135.01 585.86,132.69 594.19,125.35 605.05,121.17 613.18,111.29 625.04,101.35 634.87,85.71 643.27,68.23 653.34,50.72 663.4,28 648.38,37.57 631.45,46.18 618.21,54.86 602.48,62.89 585.51,73.08 570.52,83.56 555.22,96.5 540.57,105.11 524.17,118.7 509.21,135.96" fill="none" stroke="#2e3192" stroke-width="0.45" stroke-linejoin="round" />
<polyline points="515.39,143.43 525.28,147.16 534.19,150.71 544.37,146.6 550.94,148.97 553.52,146.31 561.48,148.49 569.03,149.26 576.7,148.39 584.18,146.07 593.7,144.33 600.55,144.62 609.87,139.49 617.2,136.36 625.02,127.9 631.82,115.2 639.58,103.18 648.1,82.01 654.97,59.82 663.4,28 646.88,44.18 633.06,54.98 617.05,67.4 602.54,79.16 585.88,93.49 570.86,105.05 555.51,111.85 540.98,120.32 523.98,125.36 509.07,131" fill="none" stroke="#2e3192" stroke-width="0.45" stroke-linejoin="round" />
<polyline points="508.3,148.11 519.77,148.77 531.15,149.41 541.28,149.83 554.63,149.99 564.53,147.42 575.43,146.81 587.46,140.56 598.65,137.83 607.95,128.15 618.8,120.25 629.51,105.35 642.36,84.32 653.09,59.85 663.4,28 648.89,38.11 632.93,49.08 617.52,60.22 600.27,69.77 585.43,79.94 570.91,91.7 554.92,104.66 539.22,112.2 523.97,122.79 507.97,132.18" fill="none" stroke="#2e3192" stroke-width="0.45" stroke-linejoin="round" />
<polyline points="511.76,142.98 523.98,142.72 534.85,143.3 535.82,142.56 544.65,146.15 554.87,144.84 563.61,142.66 572.34,141.58 580.21,141.57 591.17,139.34 599.64,136.44 608.05,130.16 617.19,122.26 626.32,109.32 634.92,94.32 645.98,76.01 653.7,53.85 663.4,28 647.75,34.04 633.8,45.31 617.08,51.21 603,61.89 588.44,69.59 573.54,81.58 556.44,91.76 542.33,102.03 527.09,117.05 511.8,141.1" fill="none" stroke="#2e3192" stroke-width="0.45" stroke-linejoin="round" />
<polyline points="510.69,146.47 517.56,144.89 524.38,140.78 530.93,142.46 540.37,140.43 550.79,144.04 551.93,145.13 561.39,141.74 569.49,141.31 575.32,142.56 585.18,140.77 591.99,141.67 599.41,135.29 607.44,133.16 614.75,124.2 623.34,118.88 631.76,106.38 638.51,90.17 647.62,75.58 654.93,55.39 663.4,28 648.74,42.08 633.65,52.48 617.28,67.09 602.34,75.47 586.1,88.18 571.75,97.46 556.22,110.47 540.74,118.75 524.78,126.76 509.09,131.05" fill="none" stroke="#2e3192" stroke-width="0.45" stroke-linejoin="round" />
<polyline points="510.1,150.71 516.37,149.86 523.81,145.62 530.7,148.85 537.11,150.71 547.52,145.81 557.6,147.25 563.85,148.74 570.26,147.2 575.92,148.54 582.6,148.12 589.31,145.75 597.26,145.52 602.97,144.75 610.04,142.69 617.43,139.03 622.71,133.4 629.22,123.11 637.05,110.47 644.5,99.58 649.19,79.02 657.59,56.2 663.4,28 614.96,28 604,38.45 594.52,46.36 583.34,58.17 571.71,67.12 560.29,77.95 550.06,90.93 538.79,100.27 529.31,109.94 518.13,122.49 507.68,137.47" fill="none" stroke="#2e3192" stroke-width="0.45" stroke-linejoin="round" />
<polyline points="507.32,143.55 518.26,145.64 526.32,143.37 535.6,146.28 543.64,144.68 554.99,139.93 566.06,140.67 571.21,142.71 578.88,143.32 584.92,143.15 594.36,142 599.88,142.34 606.65,139.7 614.34,133.31 620.32,128.4 628.36,122.03 634.99,112.87 643.04,97.75 649.89,77.35 656.43,54.62 663.4,28 648.76,32.98 633.06,43.05 616.79,49.77 602.46,55.12 587.01,62.13 572.66,70.88 555.47,81.61 540.01,94.48 526.6,110.46 510.61,143.66" fill="none" stroke="#2e3192" stroke-width="0.45" stroke-linejoin="round" />
<polyline points="507.69,141.8 516.04,136.76 526.99,139.92 529.09,140.53 540.94,140.44 549.15,137.87 559.31,138.03 569.33,139.04 576.59,134.64 586.66,131.22 598.08,125.73 606.86,120.76 616.05,109.39 626.15,99.9 634.82,86.08 643.43,69.47 654.96,49.05 663.4,28 647.38,42.24 634.12,53.8 616.98,64.59 603.01,77.32 588.56,89.9 571.99,98.81 558.14,111.13 542.72,120.61 527.79,132.95 511.37,140.46" fill="none" stroke="#2e3192" stroke-width="0.45" stroke-linejoin="round" />
<polyline points="512.15,145.79 523.65,150.48 534.51,142.95 541.53,144.55 551.4,145.8 551.52,147.89 559.42,148.23 567.52,148.51 576.61,148.25 583.59,144.01 592.39,142.68 599.36,142.43 608.63,135.82 614.83,127.77 624.52,121.3 631.31,109.89 639.02,96.69 646.61,76.34 654.74,56.31 663.4,28 648.06,33.27 632.56,43.01 616.09,49.31 601.09,60.77 587.13,68.41 570.51,73.89 553.98,85.08 538.85,97 524.59,107.38 508.42,123.51" fill="none" stroke="#2e3192" stroke-width="0.45" stroke-linejoin="round" />
<polyline points="515.02,144.88 525.74,148.12 528.22,144.71 538.99,144.59 548.03,145.92 557.04,142.17 568.17,141.43 576.13,140.21 587.92,137.01 595.39,128.66 607.15,122.73 616.67,115.88 624.21,102.18 634.9,89.42 643.65,73.16 653.11,49.95 663.4,28 607.3,28 597.34,41.31 587.69,54.98 578.74,66.09 567.49,74.81 557.34,85.38 548.24,93.71 538.48,104.56 528.03,113.09 519.57,116.43 508.95,122.44" fill="none" stroke="#2e3192" stroke-width="0.45" stroke-linejoin="round" />
<polyline points="514.76,150.71 523.02,145.51 535.06,150.71 541.41,150.71 545.15,149.51 553.91,148.14 560.74,147.68 570.06,147.11 577.45,142.73 587.44,138.83 596.58,133.03 602.94,125.04 611.99,115.72 620.94,108.17 629.02,93.28 637.5,82.41 645.99,67.56 655.83,48.42 663.4,28 647.34,40.37 632.61,48.33 617.8,57.49 602.64,67.74 586.17,79.19 571.83,89.96 556.52,101.1 541.32,109.98 527.19,121.98 511.33,132.18" fill="none" stroke="#2e3192" stroke-width="0.45" stroke-linejoin="round" />
<polyline points="508.24,145.29 514.55,144.21 522.13,149.24 531.77,144.75 540.08,147.61 550.54,145.8 558.66,146.2 567.57,146.29 575.32,147.01 585.17,143.01 592.52,141.31 603.29,136.93 611.09,131.53 620.22,122.1 628.73,111.18 638.08,98.12 646.01,78.84 653.78,58.24 663.4,28 647.36,34.54 631.19,43.97 616.41,49.31 601.39,60.07 586.23,67.09 568.67,74.55 554.32,88.37 538.65,99.45 522.73,110.47 507.6,138.68" fill="none" stroke="#2e3192" stroke-width="0.45" stroke-linejoin="round" />
<polyline points="515.62,139.5 517.7,143.22 527.74,143.91 536.67,143.74 549.52,139.44 558.49,138.03 569.8,138.8 580.58,135.48 589.35,127.95 600.16,125.22 611.79,114.97 621.27,103.36 630.78,87.39 641.25,74.34 653.89,54.31 663.4,28 648.44,43.09 633.45,52.85 618.52,69.64 603.53,80.5 587.97,93.44 572.52,102.55 559.75,116.27 543.12,124.83 528.88,133.82 513.68,139.89" fill="none" stroke="#2e3192" stroke-width="0.45" stroke-linejoin="round" />
<polyline points="509.12,141.69 519.17,144.34 532.27,143.55 542.69,141.27 553.81,144.84 564.12,143.67 575.64,139.11 586.2,135.99 597.99,131.45 607.55,122.64 619.83,114.71 630.06,102.28 642.46,82.54 652.28,58.75 663.4,28 598.49,28 588.46,35.14 579.6,47.71 570.2,53.07 561.58,62.58 552.27,75.01 544.12,82.41 533.92,94.08 525.65,106.62 515.55,114.54 507.42,130.46" fill="none" stroke="#2e3192" stroke-width="0.45" stroke-linejoin="round" />
<polyline points="508.15,148.37 518.92,144.89 522.97,145.66 532.52,143.99 542.6,143.58 553.02,143.15 564,138.52 572.78,135.26 583.09,131.69 594.46,122.04 604.08,113.51 612.18,106.18 623.41,93.71 634.09,81.68 642.55,64.44 653.63,46.44 663.4,28 648.1,42.59 632.18,55.76 617.63,65.83 600.9,77.32 586.07,89.97 570.76,97.48 555.22,105.51 539.35,112.27 523.16,121.46 508.07,123.29" fill="none" stroke="#2e3192" stroke-width="0.45" stroke-linejoin="round" />
<polyline points="507.54,140.45 517.33,143.43 516.82,140.48 527.57,140.92 538.92,141.69 549.87,139.46 559.2,138.51 570.47,134.33 579.72,127.28 589.65,123.15 601.09,115.98 610.62,102.6 621.21,93.09 632.68,79.23 642.71,63.11 651.74,45.6 663.4,28 624.7,28 612.76,40.2 601.15,48.74 589.06,62.28 576.97,74.8 566.22,82.74 555.48,96.59 542.16,106.43 532.02,115.31 518.72,124.18 507.75,133.59" fill="none" stroke="#2e3192" stroke-width="0.45" stroke-linejoin="round" />
<polyline points="510.02,148.03 519.32,149.69 527.48,144.87 536.41,144.86 546.41,143.97 555.99,145.72 564.81,143.16 575.72,136.7 584.22,134.87 595.45,128.29 603.81,115.94 615.37,107.68 624.55,95.55 633.08,81.5 644.07,64.83 654.41,47.26 663.4,28 648.26,38.3 632.91,46.99 618.49,51.92 603.79,64.38 587.44,72.43 571.92,84.97 557.24,94.6 541.89,107.8 528.03,122.18 512.37,143.73" fill="none" stroke="#2e3192" stroke-width="0.45" stroke-linejoin="round" />
<polyline points="511.98,141.34 523.73,142.47 525.27,139.49 535.34,138.74 544.71,138.63 556.16,138.86 565.89,137.84 574.49,135.51 585.57,130.65 593.56,125.18 605.31,119.59 614.05,110.19 623.24,98.76 633.53,86.98 644.01,68.83 654.05,50.26 663.4,28 647.68,43.13 632.36,56.32 616.05,67.18 601.01,80.16 584.63,92.9 571.12,104.9 553.87,111.7 538.59,121.74 523.31,131.96 508.22,135.76" fill="none" stroke="#2e3192" stroke-width="0.45" stroke-linejoin="round" />
<polyline points="509.84,143.75 521.94,145.09 531.78,143.48 542.68,143.16 553.01,150.24 560.09,144.99 568.89,148.19 576.51,144.83 582.93,147.85 590.91,147.71 597.49,144.2 604.88,142.7 611.71,141.88 619.28,134.17 627.54,125.71 633.44,118.4 642.08,101.93 648.22,86.27 655.27,58.33 663.4,28 649.1,37.18 633.66,50.64 618.88,58.59 603.21,70.19 588.5,80.59 571.7,93.06 557.91,101.9 542.56,113.64 527.69,123.83 511.36,137.68" fill="none" stroke="#2e3192" stroke-width="0.45" stroke-linejoin="round" />
<polyline points="507.53,138.04 517.64,137.45 524.68,139.1 531.17,136.83 540.5,139.86 548.41,138.35 556.62,140.03 565.09,134.79 576.07,133.05 582.87,127.31 592.78,120.96 600.76,113.06 610.86,104.14 620.22,98.13 627.05,83.67 635.71,74.86 645.03,58.43 654.98,45.02 663.4,28 647.41,32.96 631.89,39.63 615.75,49.35 600.95,56.05 586.76,66.29 570,75.63 555.71,85.52 538.26,96.1 523.82,111.65 508.36,142.18" fill="none" stroke="#2e3192" stroke-width="0.45" stroke-linejoin="round" />
<polyline points="506.45,137.84 518.99,137.49 530.81,139.18 539.97,138.96 551.69,136.63 562.31,132.72 573.48,128.41 584.41,118.86 595.77,114.5 606.99,101.46 617.66,94.46 628.89,80.82 639.87,64.87 652.38,49.02 663.4,28 648.27,42.66 632.01,53.26 615.94,66.24 601.72,77.1 587.2,88.74 569.35,100.95 555.67,113.18 540.13,124.6 524.19,130.88 508.7,140.6" fill="none" stroke="#2e3192" stroke-width="0.45" stroke-linejoin="round" />
<polyline points="509.84,143.79 517.32,142.2 525.22,143.45 534.74,143.08 543.29,145.25 553.16,144.38 561.36,140.83 571.28,139.53 579.31,138.27 588.62,133.21 597.79,125.22 606.98,119.68 617.56,109.61 626.71,96.24 636.15,84.66 645.64,66.07 653.65,49.3 663.4,28 648.07,38.91 633.14,45.66 616.79,54.68 602.74,64.9 586.61,78.66 571.24,85.79 556,100.91 539.78,109.7 524.78,123.51 509.95,143.13" fill="none" stroke="#2e3192" stroke-width="0.45" stroke-linejoin="round" />
<polyline points="513.59,141.57 525.63,140.81 535.2,135.3 545.77,139.81 552.03,140.28 553.53,138.84 562.54,139.89 569.98,139.19 577.37,137.57 585.58,139.53 593.75,134.42 601.57,133.47 609.64,125.57 615.52,119.06 625.58,111 633.21,102.15 640.47,86.22 648.47,71.18 656.73,53.15 663.4,28 648.93,41.29 633.59,58.16 618.93,68.99 604.02,83.37 588.58,95.48 575,102.69 558.44,115.17 543.5,124.4 529.13,129.28 514.35,133.82" fill="none" stroke="#2e3192" stroke-width="0.45" stroke-linejoin="round" />
<polyline points="511.97,150.71 520.17,150.71 526.74,150.71 528.18,148.05 537.25,147.96 546.92,147.26 556.59,149.43 567.82,146.54 576.45,141.71 585.23,138.31 595.21,129.14 605.73,123.8 614.58,110.96 625.44,99.98 634.86,87.4 643.88,69.77 653.65,49.61 663.4,28 647.29,39.58 632.52,52.26 616.5,63.31 601.83,77.62 585.8,86.41 570.94,100 555.29,112.34 540.47,124 523.23,132.92 508.73,144.96" fill="none" stroke="#2e3192" stroke-width="0.45" stroke-linejoin="round" />
<polyline points="528.39,149.83 535.71,140.14 541.29,137.87 549.22,142.56 557.25,143.96" fill="none" stroke="#2e3192" stroke-width="0.45" stroke-linejoin="round" />
<polyline points="516.25,146.71 522.67,146.84 533.5,145.4 544.48,139.22 552.41,136.68 558.29,144.42" fill="none" stroke="#2e3192" stroke-width="0.45" stroke-linejoin="round" />
<polyline points="508.44,136.49 515.55,136.52 525.84,136.63 533.67,142.64 538.41,146.88 544.05,143.77" fill="none" stroke="#2e3192" stroke-width="0.45" stroke-linejoin="round" />
<polyline points="514.41,139.99 523.56,143.73 531.19,143.67 537.03,148.42 547.06,147.95 552.21,136.85 557.56,142.12" fill="none" stroke="#2e3192" stroke-width="0.45" stroke-linejoin="round" />
<polyline points="509,139.1 519.04,142.32 527.76,150.28 537.21,138.82 547.14,140.86 555.95,145.4 563.03,146.66 573.68,140.84 585.63,143.2 591.07,142.6" fill="none" stroke="#2e3192" stroke-width="0.45" stroke-linejoin="round" />
<polyline points="508.24,143.94 514.53,140.47 526.09,140.08 535.53,137.23 540.91,139.43" fill="none" stroke="#2e3192" stroke-width="0.45" stroke-linejoin="round" />
<polyline points="515.81,145.08 526.06,140.98 534.59,149.26 539.52,140.7 549.76,146.71" fill="none" stroke="#2e3192" stroke-width="0.45" stroke-linejoin="round" />
<polyline points="521.25,143.56 529.73,139.9 536.59,139.87 545.67,145.83 556.88,147.09 567.55,147.68 575.53,141.25" fill="none" stroke="#2e3192" stroke-width="0.45" stroke-linejoin="round" />
<polyline points="524.23,141.92 530.46,147.38 542.5,148.34 552.92,140.47 564.45,140.43 576.57,148.91 588.81,137.98" fill="none" stroke="#2e3192" stroke-width="0.45" stroke-linejoin="round" />
<polyline points="512.38,150.05 517.24,141.72 524.35,142.87 529.05,139.5 533.78,139.51 543.42,145.75 555.73,143.33 567.81,142.96 573.51,144.1" fill="none" stroke="#2e3192" stroke-width="0.45" stroke-linejoin="round" />
<polyline points="512.01,149.92 519.98,138.22 528.42,142.73 534.19,143.9 545.6,136.79 556.11,141.66" fill="none" stroke="#2e3192" stroke-width="0.45" stroke-linejoin="round" />
<polyline points="514.83,149.82 523.67,147.71 531.5,147.3 542.53,141.64 554.69,147.58 565.76,138.18 574.54,144.76 584.83,138.87 592.72,144.65" fill="none" stroke="#2e3192" stroke-width="0.45" stroke-linejoin="round" />
<polyline points="515.4,145.36 524.2,147.63 529.94,142.46 540.19,145.13 550.7,142.06 561.56,140.36 569.06,140.68" fill="none" stroke="#2e3192" stroke-width="0.45" stroke-linejoin="round" />
<polyline points="526.3,147.82 534.13,142.46 543.42,147.36 550.86,148.86 557.46,145.87 568.54,140.03 576.92,138.15 587.43,142.69" fill="none" stroke="#2e3192" stroke-width="0.45" stroke-linejoin="round" />
<polyline points="577.55,141.34 600.96,137.65 613.45,135.18 618.13,116.7 622.81,131.49 647.79,132.72 655.6,131.49 632.18,133.95" fill="none" stroke="#2e3192" stroke-width="0.45" stroke-linejoin="round" />
<polyline points="585.35,136.42 604.08,133.95 613.45,126.56 616.57,138.88 641.55,141.34 650.91,136.42" fill="none" stroke="#2e3192" stroke-width="0.45" stroke-linejoin="round" />
<text x="592" y="23.3" text-anchor="middle">Cytoplasm</text>
<text x="645.9" y="113.9">Cytoplasmic</text>
<text x="645.9" y="121.4">accumulation</text>
<line x1="600.1" y1="30.9" x2="518.23" y2="100.35" stroke="#231f20" stroke-width="0.75"/>
<path d="M516.4,101.9 L518.16,98.42 L520.12,100.73 Z" fill="#231f20"/>
<text x="557" y="63" text-anchor="middle" transform="rotate(319.69 557 63)">Cdc13–Cdc2(WT) degradation</text>
<path d="M594.8,139.3 C626.6,127 667.2,92 672.62,50.18" fill="none" stroke="#231f20" stroke-width="0.75"/>
<path d="M672.9,48 L673.94,51.76 L670.93,51.37 Z" fill="#231f20"/>
<line x1="278.4" y1="340.8" x2="438.4" y2="340.8" stroke="#231f20" stroke-width="0.5"/>
<line x1="278.4" y1="340.8" x2="278.4" y2="215.2" stroke="#231f20" stroke-width="0.5"/>
<line x1="278.4" y1="340.8" x2="278.4" y2="337.6" stroke="#231f20" stroke-width="0.5"/>
<line x1="294.4" y1="340.8" x2="294.4" y2="337.6" stroke="#231f20" stroke-width="0.5"/>
<line x1="310.4" y1="340.8" x2="310.4" y2="337.6" stroke="#231f20" stroke-width="0.5"/>
<line x1="326.4" y1="340.8" x2="326.4" y2="337.6" stroke="#231f20" stroke-width="0.5"/>
<line x1="342.4" y1="340.8" x2="342.4" y2="337.6" stroke="#231f20" stroke-width="0.5"/>
<line x1="358.4" y1="340.8" x2="358.4" y2="337.6" stroke="#231f20" stroke-width="0.5"/>
<line x1="374.4" y1="340.8" x2="374.4" y2="337.6" stroke="#231f20" stroke-width="0.5"/>
<line x1="390.4" y1="340.8" x2="390.4" y2="337.6" stroke="#231f20" stroke-width="0.5"/>
<line x1="406.4" y1="340.8" x2="406.4" y2="337.6" stroke="#231f20" stroke-width="0.5"/>
<line x1="422.4" y1="340.8" x2="422.4" y2="337.6" stroke="#231f20" stroke-width="0.5"/>
<line x1="438.4" y1="340.8" x2="438.4" y2="337.6" stroke="#231f20" stroke-width="0.5"/>
<line x1="278.4" y1="328.24" x2="281.6" y2="328.24" stroke="#231f20" stroke-width="0.5"/>
<line x1="278.4" y1="315.68" x2="281.6" y2="315.68" stroke="#231f20" stroke-width="0.5"/>
<line x1="278.4" y1="303.12" x2="281.6" y2="303.12" stroke="#231f20" stroke-width="0.5"/>
<line x1="278.4" y1="290.56" x2="281.6" y2="290.56" stroke="#231f20" stroke-width="0.5"/>
<line x1="278.4" y1="278" x2="281.6" y2="278" stroke="#231f20" stroke-width="0.5"/>
<line x1="278.4" y1="265.44" x2="281.6" y2="265.44" stroke="#231f20" stroke-width="0.5"/>
<line x1="278.4" y1="252.88" x2="281.6" y2="252.88" stroke="#231f20" stroke-width="0.5"/>
<line x1="278.4" y1="240.32" x2="281.6" y2="240.32" stroke="#231f20" stroke-width="0.5"/>
<line x1="278.4" y1="227.76" x2="281.6" y2="227.76" stroke="#231f20" stroke-width="0.5"/>
<line x1="278.4" y1="215.2" x2="281.6" y2="215.2" stroke="#231f20" stroke-width="0.5"/>
<text x="278.4" y="349.8" text-anchor="middle">0</text>
<text x="310.4" y="349.8" text-anchor="middle">0.2</text>
<text x="342.4" y="349.8" text-anchor="middle">0.4</text>
<text x="374.4" y="349.8" text-anchor="middle">0.6</text>
<text x="406.4" y="349.8" text-anchor="middle">0.8</text>
<text x="438.4" y="349.8" text-anchor="middle">1</text>
<text x="274.6" y="330.54" text-anchor="end">0.1</text>
<text x="274.6" y="305.42" text-anchor="end">0.3</text>
<text x="274.6" y="280.3" text-anchor="end">0.5</text>
<text x="274.6" y="255.18" text-anchor="end">0.7</text>
<text x="274.6" y="230.06" text-anchor="end">0.9</text>
<text x="244.2" y="210.2" style="font-size:10px;font-weight:bold;fill:#000;">e</text>
<text x="357.9" y="362.2" text-anchor="middle">Normalized nuclear Cdc13–Cdc2AF–mNG</text>
<text x="356.9" y="369.5" text-anchor="middle">mean intensity</text>
<text x="251.4" y="277" text-anchor="middle" transform="rotate(-90 251.4 277)">NucCDK sensor readout (C/N)</text>
<text x="259.5" y="276.4" text-anchor="middle" transform="rotate(-90 259.5 276.4)">normalized</text>
<polyline points="281.7,340.9 283.8,332.5 286.9,324.1 293.4,312.5 301.9,307.4 311.3,303.6 321.5,298.8 330.7,297.5 338,295.6 346.5,293.1 353,287.8 356.9,287.5 362.5,281 373.5,276.2 384.4,271.8 397.1,269.7 410.5,266.7 425,267.6 438.1,253.4 427.4,232.6 404.2,215.4 402.6,250.9 339.5,295.8 285.5,320.6 278.8,325.1 282.1,332 284.1,327.3 283.3,331" fill="none" stroke="#e31b30" stroke-width="1.3" stroke-linejoin="round" />
<circle cx="281.7" cy="340.9" r="1.3" fill="#00994a"/>
<circle cx="283.8" cy="332.5" r="1.3" fill="#00994a"/>
<circle cx="286.9" cy="324.1" r="1.3" fill="#00994a"/>
<circle cx="293.4" cy="312.5" r="1.3" fill="#00994a"/>
<circle cx="301.9" cy="307.4" r="1.3" fill="#00994a"/>
<circle cx="311.3" cy="303.6" r="1.3" fill="#00994a"/>
<circle cx="321.5" cy="298.8" r="1.3" fill="#00994a"/>
<circle cx="330.7" cy="297.5" r="1.3" fill="#00994a"/>
<circle cx="338" cy="295.6" r="1.3" fill="#00994a"/>
<circle cx="346.5" cy="293.1" r="1.3" fill="#00994a"/>
<circle cx="353" cy="287.8" r="1.3" fill="#00994a"/>
<circle cx="356.9" cy="287.5" r="1.3" fill="#00994a"/>
<circle cx="362.5" cy="281" r="1.3" fill="#00994a"/>
<circle cx="373.5" cy="276.2" r="1.3" fill="#00994a"/>
<circle cx="384.4" cy="271.8" r="1.3" fill="#00994a"/>
<circle cx="397.1" cy="269.7" r="1.3" fill="#00994a"/>
<circle cx="410.5" cy="266.7" r="1.3" fill="#00994a"/>
<circle cx="425" cy="267.6" r="1.3" fill="#00994a"/>
<circle cx="438.1" cy="253.4" r="1.3" fill="#00994a"/>
<circle cx="427.4" cy="232.6" r="1.3" fill="#00994a"/>
<circle cx="404.2" cy="215.4" r="1.3" fill="#00994a"/>
<circle cx="402.6" cy="250.9" r="1.3" fill="#00994a"/>
<circle cx="339.5" cy="295.8" r="1.3" fill="#00994a"/>
<circle cx="285.5" cy="320.6" r="1.3" fill="#00994a"/>
<circle cx="278.8" cy="325.1" r="1.3" fill="#00994a"/>
<circle cx="282.1" cy="332" r="1.3" fill="#00994a"/>
<circle cx="284.1" cy="327.3" r="1.3" fill="#00994a"/>
<circle cx="283.3" cy="331" r="1.3" fill="#00994a"/>
<text x="364.5" y="217.7" text-anchor="middle">Nucleus</text>
<text x="443.3" y="217.8" text-anchor="middle">Nuclear</text>
<text x="443.3" y="226.1" text-anchor="middle">export</text>
<text x="374.5" y="255.4" text-anchor="middle" style="font-size:6.75px;">Mitotic state</text>
<text x="403.6" y="282.8" text-anchor="middle" style="font-size:6.75px;">Interphase state</text>
<path d="M441.4,250.1 C441.3,245.7 441.6,224.2 414.49,215.1" fill="none" stroke="#231f20" stroke-width="0.75"/>
<path d="M412.4,214.4 L416.29,214.1 L415.32,216.98 Z" fill="#231f20"/>
<line x1="509" y1="339.5" x2="668.3" y2="339.5" stroke="#231f20" stroke-width="0.5"/>
<line x1="509" y1="339.5" x2="509" y2="213.75" stroke="#231f20" stroke-width="0.5"/>
<line x1="509" y1="339.5" x2="509" y2="336.3" stroke="#231f20" stroke-width="0.5"/>
<line x1="524.93" y1="339.5" x2="524.93" y2="336.3" stroke="#231f20" stroke-width="0.5"/>
<line x1="540.86" y1="339.5" x2="540.86" y2="336.3" stroke="#231f20" stroke-width="0.5"/>
<line x1="556.79" y1="339.5" x2="556.79" y2="336.3" stroke="#231f20" stroke-width="0.5"/>
<line x1="572.72" y1="339.5" x2="572.72" y2="336.3" stroke="#231f20" stroke-width="0.5"/>
<line x1="588.65" y1="339.5" x2="588.65" y2="336.3" stroke="#231f20" stroke-width="0.5"/>
<line x1="604.58" y1="339.5" x2="604.58" y2="336.3" stroke="#231f20" stroke-width="0.5"/>
<line x1="620.51" y1="339.5" x2="620.51" y2="336.3" stroke="#231f20" stroke-width="0.5"/>
<line x1="636.44" y1="339.5" x2="636.44" y2="336.3" stroke="#231f20" stroke-width="0.5"/>
<line x1="652.37" y1="339.5" x2="652.37" y2="336.3" stroke="#231f20" stroke-width="0.5"/>
<line x1="668.3" y1="339.5" x2="668.3" y2="336.3" stroke="#231f20" stroke-width="0.5"/>
<line x1="509" y1="326.93" x2="512.2" y2="326.93" stroke="#231f20" stroke-width="0.5"/>
<line x1="509" y1="314.35" x2="512.2" y2="314.35" stroke="#231f20" stroke-width="0.5"/>
<line x1="509" y1="301.77" x2="512.2" y2="301.77" stroke="#231f20" stroke-width="0.5"/>
<line x1="509" y1="289.2" x2="512.2" y2="289.2" stroke="#231f20" stroke-width="0.5"/>
<line x1="509" y1="276.62" x2="512.2" y2="276.62" stroke="#231f20" stroke-width="0.5"/>
<line x1="509" y1="264.05" x2="512.2" y2="264.05" stroke="#231f20" stroke-width="0.5"/>
<line x1="509" y1="251.47" x2="512.2" y2="251.47" stroke="#231f20" stroke-width="0.5"/>
<line x1="509" y1="238.9" x2="512.2" y2="238.9" stroke="#231f20" stroke-width="0.5"/>
<line x1="509" y1="226.32" x2="512.2" y2="226.32" stroke="#231f20" stroke-width="0.5"/>
<line x1="509" y1="213.75" x2="512.2" y2="213.75" stroke="#231f20" stroke-width="0.5"/>
<text x="509" y="348.2" text-anchor="middle">0</text>
<text x="540.86" y="348.2" text-anchor="middle">0.2</text>
<text x="572.72" y="348.2" text-anchor="middle">0.4</text>
<text x="604.58" y="348.2" text-anchor="middle">0.6</text>
<text x="636.44" y="348.2" text-anchor="middle">0.8</text>
<text x="668.3" y="348.2" text-anchor="middle">1.0</text>
<text x="504.8" y="329.23" text-anchor="end">0.1</text>
<text x="504.8" y="304.07" text-anchor="end">0.3</text>
<text x="504.8" y="278.93" text-anchor="end">0.5</text>
<text x="504.8" y="253.78" text-anchor="end">0.7</text>
<text x="504.8" y="228.62" text-anchor="end">0.9</text>
<text x="473.8" y="210.2" style="font-size:10px;font-weight:bold;fill:#000;">f</text>
<text x="587.5" y="359.7" text-anchor="middle">Normalized cytoplasmic Cdc13–Cdc2AF–mNG</text>
<text x="588.5" y="368.3" text-anchor="middle">mean intensity</text>
<text x="482" y="276.4" text-anchor="middle" transform="rotate(-90 482 276.4)">CytCDKV2 sensor readout (N/C)</text>
<text x="489.7" y="276.4" text-anchor="middle" transform="rotate(-90 489.7 276.4)">normalized</text>
<polyline points="510.2,339.4 513.1,336.3 509.2,330.3 518.2,326 525.6,320.8 530.8,314.2 535.1,308.4 534.8,301.3 535.1,294.7 543.2,291.3 549.9,287.1 554.8,285.9 565.6,276.3 580.9,269.7 597.8,260.8 626,246 657.1,226.7 668.1,213.9 628.1,235.6 565.2,276.8 552,287 512.6,323.4 509.2,330.3" fill="none" stroke="#2e3192" stroke-width="1.3" stroke-linejoin="round" />
<circle cx="510.2" cy="339.4" r="1.3" fill="#00994a"/>
<circle cx="513.1" cy="336.3" r="1.3" fill="#00994a"/>
<circle cx="509.2" cy="330.3" r="1.3" fill="#00994a"/>
<circle cx="518.2" cy="326" r="1.3" fill="#00994a"/>
<circle cx="525.6" cy="320.8" r="1.3" fill="#00994a"/>
<circle cx="530.8" cy="314.2" r="1.3" fill="#00994a"/>
<circle cx="535.1" cy="308.4" r="1.3" fill="#00994a"/>
<circle cx="534.8" cy="301.3" r="1.3" fill="#00994a"/>
<circle cx="535.1" cy="294.7" r="1.3" fill="#00994a"/>
<circle cx="543.2" cy="291.3" r="1.3" fill="#00994a"/>
<circle cx="549.9" cy="287.1" r="1.3" fill="#00994a"/>
<circle cx="554.8" cy="285.9" r="1.3" fill="#00994a"/>
<circle cx="565.6" cy="276.3" r="1.3" fill="#00994a"/>
<circle cx="580.9" cy="269.7" r="1.3" fill="#00994a"/>
<circle cx="597.8" cy="260.8" r="1.3" fill="#00994a"/>
<circle cx="626" cy="246" r="1.3" fill="#00994a"/>
<circle cx="657.1" cy="226.7" r="1.3" fill="#00994a"/>
<circle cx="668.1" cy="213.9" r="1.3" fill="#00994a"/>
<circle cx="628.1" cy="235.6" r="1.3" fill="#00994a"/>
<circle cx="565.2" cy="276.8" r="1.3" fill="#00994a"/>
<circle cx="552" cy="287" r="1.3" fill="#00994a"/>
<circle cx="512.6" cy="323.4" r="1.3" fill="#00994a"/>
<circle cx="509.2" cy="330.3" r="1.3" fill="#00994a"/>
<text x="596.3" y="215.6" text-anchor="middle">Cytoplasm</text>
<text x="615.6" y="228.8" text-anchor="middle" style="font-size:6.75px;">Mitotic state</text>
<text x="646.6" y="256.1" text-anchor="middle" style="font-size:6.75px;">Interphase state</text>
</svg>
</body></html>
